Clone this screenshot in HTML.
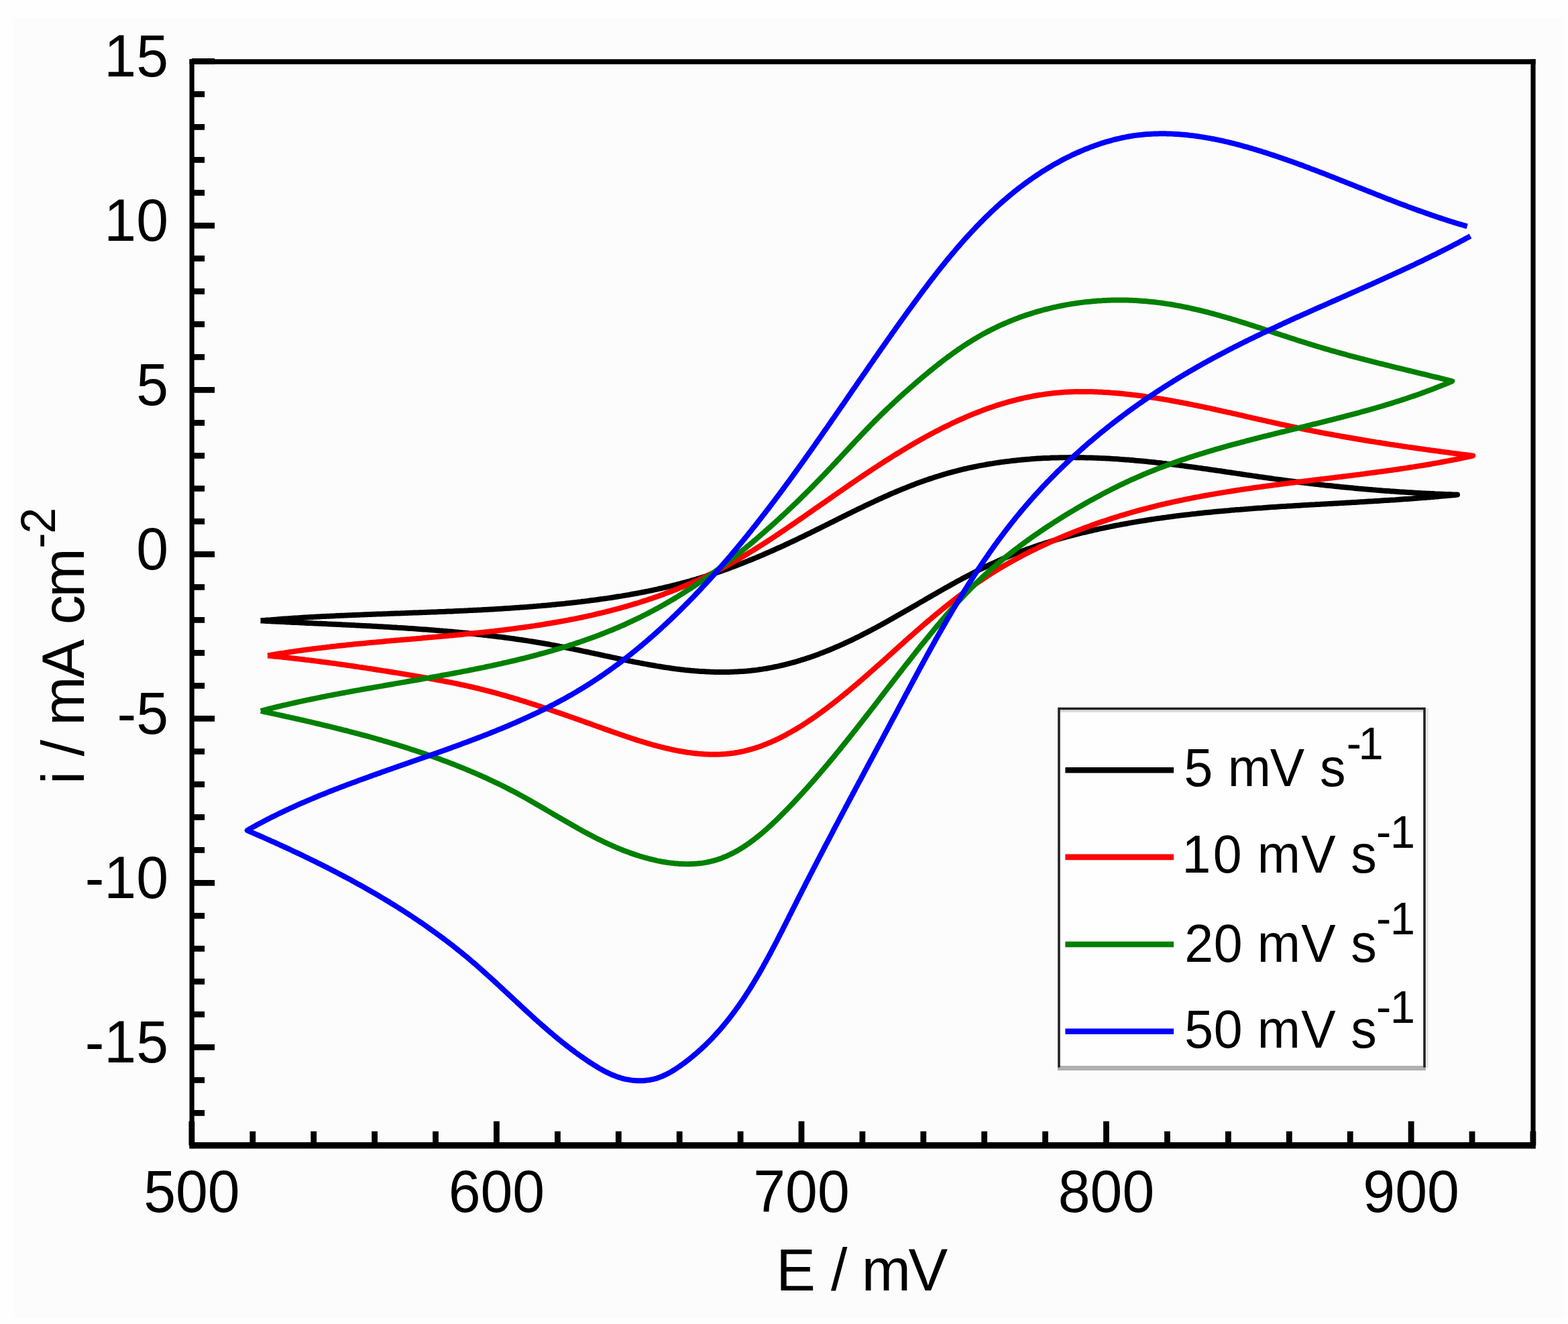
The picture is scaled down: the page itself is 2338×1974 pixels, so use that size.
<!DOCTYPE html>
<html><head><meta charset="utf-8"><title>Cyclic voltammograms</title>
<style>html,body{margin:0;padding:0;background:#fefefe;}svg{display:block;}</style></head>
<body>
<svg xmlns="http://www.w3.org/2000/svg" width="2338" height="1974" viewBox="0 0 2338 1974" font-family="'Liberation Sans', Arial, sans-serif">
<rect x="0" y="0" width="2338" height="1974" fill="#fefefe"/>
<rect x="20" y="27" width="2313" height="1937" fill="#fcfcfc"/>
<g fill="none" stroke-linejoin="round" stroke-linecap="butt"><path d="M388.6 925.4 L391.6 925.1 L394.6 924.9 L397.6 924.6 L400.5 924.4 L403.5 924.2 L406.5 923.9 L409.5 923.7 L412.5 923.5 L415.5 923.2 L418.5 923.0 L421.4 922.8 L424.4 922.6 L427.4 922.4 L430.4 922.2 L433.4 922.0 L436.4 921.8 L439.4 921.6 L442.4 921.4 L445.4 921.2 L448.3 921.0 L451.3 920.8 L454.3 920.6 L457.3 920.5 L460.3 920.3 L463.3 920.1 L466.3 920.0 L469.3 919.8 L472.3 919.6 L475.3 919.5 L478.3 919.3 L481.3 919.1 L484.3 919.0 L487.3 918.8 L490.3 918.7 L493.3 918.5 L496.3 918.4 L499.3 918.3 L502.3 918.1 L505.3 918.0 L508.3 917.8 L511.3 917.7 L514.3 917.6 L517.3 917.4 L520.3 917.3 L523.3 917.2 L526.3 917.0 L529.3 916.9 L532.3 916.8 L535.3 916.7 L538.3 916.6 L541.3 916.4 L544.4 916.3 L547.4 916.2 L550.4 916.1 L553.4 916.0 L556.4 915.8 L559.4 915.7 L562.4 915.6 L565.4 915.5 L568.4 915.4 L571.4 915.3 L574.4 915.2 L577.4 915.1 L580.4 914.9 L583.5 914.8 L586.5 914.7 L589.5 914.6 L592.5 914.5 L595.5 914.4 L598.5 914.3 L601.5 914.2 L604.5 914.1 L607.5 913.9 L610.5 913.8 L613.6 913.7 L616.6 913.6 L619.6 913.5 L622.6 913.4 L625.6 913.3 L628.6 913.2 L631.6 913.1 L634.6 912.9 L637.6 912.8 L640.6 912.7 L643.7 912.6 L646.7 912.5 L649.7 912.4 L652.7 912.2 L655.7 912.1 L658.7 912.0 L661.7 911.9 L664.7 911.7 L667.7 911.6 L670.8 911.5 L673.8 911.4 L676.8 911.2 L679.8 911.1 L682.8 911.0 L685.8 910.8 L688.8 910.7 L691.8 910.6 L694.8 910.4 L697.8 910.3 L700.8 910.1 L703.9 910.0 L706.9 909.8 L709.9 909.7 L712.9 909.5 L715.9 909.4 L718.9 909.2 L721.9 909.0 L724.9 908.9 L727.9 908.7 L730.9 908.5 L733.9 908.4 L736.9 908.2 L739.9 908.0 L743.0 907.8 L746.0 907.7 L749.0 907.5 L752.0 907.3 L755.0 907.1 L758.0 906.9 L761.0 906.7 L764.0 906.5 L767.0 906.3 L770.0 906.1 L773.0 905.9 L776.0 905.6 L779.0 905.4 L782.0 905.2 L785.0 905.0 L788.0 904.7 L791.0 904.5 L794.0 904.3 L797.0 904.0 L800.0 903.8 L803.0 903.5 L806.0 903.3 L809.0 903.0 L812.0 902.7 L815.0 902.5 L818.0 902.2 L821.0 901.9 L824.0 901.6 L827.0 901.4 L830.0 901.1 L832.9 900.8 L835.9 900.5 L838.9 900.2 L841.9 899.9 L844.9 899.5 L847.9 899.2 L850.9 898.9 L853.9 898.6 L856.9 898.2 L859.9 897.9 L862.8 897.5 L865.8 897.2 L868.8 896.8 L871.8 896.5 L874.8 896.1 L877.8 895.7 L880.7 895.3 L883.7 894.9 L886.7 894.6 L889.7 894.2 L892.7 893.8 L895.6 893.3 L898.6 892.9 L901.6 892.5 L904.6 892.1 L907.5 891.6 L910.5 891.2 L913.5 890.7 L916.5 890.3 L919.4 889.8 L922.4 889.3 L925.4 888.9 L928.3 888.4 L931.3 887.9 L934.2 887.4 L937.2 886.9 L940.2 886.3 L943.1 885.8 L946.1 885.3 L949.0 884.7 L952.0 884.2 L954.9 883.6 L957.9 883.0 L960.8 882.5 L963.7 881.9 L966.7 881.3 L969.6 880.7 L972.5 880.1 L975.5 879.4 L978.4 878.8 L981.3 878.2 L984.2 877.5 L987.2 876.9 L990.1 876.2 L993.0 875.5 L995.9 874.8 L998.8 874.1 L1001.7 873.4 L1004.6 872.7 L1007.5 872.0 L1010.4 871.2 L1013.3 870.5 L1016.2 869.7 L1019.1 868.9 L1022.0 868.2 L1024.9 867.4 L1027.7 866.6 L1030.6 865.7 L1033.5 864.9 L1036.3 864.1 L1039.2 863.2 L1042.1 862.4 L1044.9 861.5 L1047.8 860.6 L1050.6 859.7 L1053.5 858.8 L1056.3 857.9 L1059.1 857.0 L1062.0 856.0 L1064.8 855.1 L1067.6 854.1 L1070.5 853.2 L1073.3 852.2 L1076.1 851.2 L1078.9 850.2 L1081.8 849.2 L1084.6 848.2 L1087.4 847.2 L1090.2 846.1 L1093.0 845.1 L1095.8 844.0 L1098.6 843.0 L1101.4 841.9 L1104.2 840.8 L1107.0 839.7 L1109.7 838.6 L1112.5 837.5 L1115.3 836.4 L1118.1 835.3 L1120.9 834.2 L1123.6 833.0 L1126.4 831.9 L1129.2 830.7 L1132.0 829.5 L1134.7 828.4 L1137.5 827.2 L1140.2 826.0 L1143.0 824.8 L1145.8 823.6 L1148.5 822.4 L1151.3 821.2 L1154.0 820.0 L1156.8 818.7 L1159.5 817.5 L1162.3 816.3 L1165.0 815.0 L1167.7 813.8 L1170.5 812.5 L1173.2 811.2 L1176.0 810.0 L1178.7 808.7 L1181.4 807.4 L1184.2 806.1 L1186.9 804.8 L1189.6 803.5 L1192.3 802.2 L1195.1 800.9 L1197.8 799.6 L1200.5 798.3 L1203.2 796.9 L1206.0 795.6 L1208.7 794.3 L1211.4 792.9 L1214.1 791.6 L1216.8 790.2 L1219.5 788.9 L1222.3 787.6 L1225.0 786.2 L1227.7 784.8 L1230.4 783.5 L1233.1 782.1 L1235.8 780.8 L1238.5 779.4 L1241.3 778.1 L1244.0 776.7 L1246.7 775.4 L1249.4 774.0 L1252.1 772.6 L1254.8 771.3 L1257.5 769.9 L1260.3 768.6 L1263.0 767.2 L1265.7 765.9 L1268.4 764.6 L1271.1 763.2 L1273.9 761.9 L1276.6 760.5 L1279.3 759.2 L1282.0 757.9 L1284.8 756.6 L1287.5 755.3 L1290.2 753.9 L1293.0 752.6 L1295.7 751.3 L1298.4 750.1 L1301.2 748.8 L1303.9 747.5 L1306.6 746.2 L1309.4 745.0 L1312.1 743.7 L1314.9 742.5 L1317.6 741.2 L1320.4 740.0 L1323.1 738.8 L1325.9 737.5 L1328.7 736.3 L1331.4 735.1 L1334.2 734.0 L1337.0 732.8 L1339.7 731.6 L1342.5 730.5 L1345.3 729.3 L1348.1 728.2 L1350.9 727.1 L1353.6 726.0 L1356.4 724.9 L1359.2 723.8 L1362.0 722.7 L1364.8 721.6 L1367.6 720.6 L1370.4 719.6 L1373.3 718.5 L1376.1 717.5 L1378.9 716.5 L1381.7 715.5 L1384.5 714.6 L1387.4 713.6 L1390.2 712.7 L1393.0 711.8 L1395.9 710.8 L1398.7 710.0 L1401.5 709.1 L1404.4 708.2 L1407.2 707.4 L1410.1 706.5 L1413.0 705.7 L1415.8 704.9 L1418.7 704.1 L1421.5 703.3 L1424.4 702.6 L1427.3 701.8 L1430.2 701.1 L1433.1 700.4 L1435.9 699.7 L1438.8 699.0 L1441.7 698.4 L1444.6 697.7 L1447.5 697.1 L1450.4 696.5 L1453.3 695.9 L1456.2 695.3 L1459.1 694.7 L1462.0 694.1 L1465.0 693.6 L1467.9 693.1 L1470.8 692.5 L1473.7 692.0 L1476.6 691.5 L1479.6 691.1 L1482.5 690.6 L1485.4 690.1 L1488.4 689.7 L1491.3 689.3 L1494.2 688.9 L1497.2 688.5 L1500.1 688.1 L1503.1 687.7 L1506.0 687.4 L1509.0 687.0 L1511.9 686.7 L1514.9 686.4 L1517.8 686.1 L1520.8 685.8 L1523.8 685.5 L1526.7 685.2 L1529.7 684.9 L1532.7 684.7 L1535.6 684.5 L1538.6 684.2 L1541.6 684.0 L1544.6 683.8 L1547.5 683.6 L1550.5 683.5 L1553.5 683.3 L1556.5 683.1 L1559.4 683.0 L1562.4 682.9 L1565.4 682.8 L1568.4 682.6 L1571.4 682.5 L1574.4 682.5 L1577.4 682.4 L1580.4 682.3 L1583.4 682.3 L1586.3 682.2 L1589.3 682.2 L1592.3 682.2 L1595.3 682.1 L1598.3 682.1 L1601.3 682.1 L1604.3 682.2 L1607.3 682.2 L1610.3 682.2 L1613.3 682.3 L1616.3 682.3 L1619.3 682.4 L1622.3 682.4 L1625.3 682.5 L1628.3 682.6 L1631.4 682.7 L1634.4 682.8 L1637.4 682.9 L1640.4 683.1 L1643.4 683.2 L1646.4 683.3 L1649.4 683.5 L1652.4 683.6 L1655.4 683.8 L1658.4 684.0 L1661.4 684.2 L1664.4 684.3 L1667.4 684.5 L1670.4 684.8 L1673.5 685.0 L1676.5 685.2 L1679.5 685.4 L1682.5 685.6 L1685.5 685.9 L1688.5 686.1 L1691.5 686.4 L1694.5 686.7 L1697.5 686.9 L1700.5 687.2 L1703.5 687.5 L1706.5 687.8 L1709.5 688.1 L1712.5 688.4 L1715.5 688.7 L1718.5 689.0 L1721.5 689.3 L1724.5 689.7 L1727.5 690.0 L1730.5 690.3 L1733.5 690.7 L1736.5 691.0 L1739.5 691.4 L1742.5 691.7 L1745.5 692.1 L1748.5 692.5 L1751.5 692.8 L1754.5 693.2 L1757.5 693.6 L1760.5 694.0 L1763.5 694.4 L1766.5 694.8 L1769.4 695.2 L1772.4 695.6 L1775.4 696.0 L1778.4 696.4 L1781.4 696.8 L1784.4 697.2 L1787.4 697.6 L1790.4 698.0 L1793.4 698.5 L1796.4 698.9 L1799.3 699.3 L1802.3 699.7 L1805.3 700.2 L1808.3 700.6 L1811.3 701.0 L1814.3 701.5 L1817.3 701.9 L1820.2 702.3 L1823.2 702.8 L1826.2 703.2 L1829.2 703.7 L1832.2 704.1 L1835.2 704.5 L1838.1 705.0 L1841.1 705.4 L1844.1 705.9 L1847.1 706.3 L1850.1 706.7 L1853.1 707.2 L1856.0 707.6 L1859.0 708.1 L1862.0 708.5 L1865.0 708.9 L1868.0 709.4 L1870.9 709.8 L1873.9 710.2 L1876.9 710.7 L1879.9 711.1 L1882.9 711.5 L1885.8 712.0 L1888.8 712.4 L1891.8 712.8 L1894.8 713.2 L1897.8 713.6 L1900.7 714.1 L1903.7 714.5 L1906.7 714.9 L1909.7 715.3 L1912.7 715.7 L1915.6 716.1 L1918.6 716.5 L1921.6 716.9 L1924.6 717.3 L1927.6 717.6 L1930.5 718.0 L1933.5 718.4 L1936.5 718.8 L1939.5 719.2 L1942.4 719.5 L1945.4 719.9 L1948.4 720.2 L1951.4 720.6 L1954.4 721.0 L1957.3 721.3 L1960.3 721.7 L1963.3 722.0 L1966.3 722.3 L1969.3 722.7 L1972.3 723.0 L1975.2 723.4 L1978.2 723.7 L1981.2 724.0 L1984.2 724.3 L1987.2 724.6 L1990.1 725.0 L1993.1 725.3 L1996.1 725.6 L1999.1 725.9 L2002.1 726.2 L2005.1 726.5 L2008.0 726.8 L2011.0 727.1 L2014.0 727.3 L2017.0 727.6 L2020.0 727.9 L2023.0 728.2 L2026.0 728.5 L2028.9 728.7 L2031.9 729.0 L2034.9 729.3 L2037.9 729.5 L2040.9 729.8 L2043.9 730.0 L2046.9 730.3 L2049.9 730.5 L2052.8 730.8 L2055.8 731.0 L2058.8 731.2 L2061.8 731.5 L2064.8 731.7 L2067.8 731.9 L2070.8 732.1 L2073.8 732.4 L2076.8 732.6 L2079.8 732.8 L2082.8 733.0 L2085.8 733.2 L2088.8 733.4 L2091.8 733.6 L2094.8 733.8 L2097.8 734.0 L2100.8 734.2 L2103.8 734.3 L2106.8 734.5 L2109.8 734.7 L2112.8 734.9 L2115.8 735.0 L2118.8 735.2 L2121.8 735.4 L2124.8 735.5 L2127.8 735.7 L2130.8 735.8 L2133.8 736.0 L2136.8 736.1 L2139.8 736.3 L2142.8 736.4 L2145.9 736.5 L2148.9 736.7 L2151.9 736.8 L2154.9 736.9 L2157.9 737.0 L2160.9 737.1 L2163.9 737.2 L2167.0 737.4 L2170.0 737.5 L2173.0 737.6 L2170.0 737.9 L2167.0 738.2 L2164.1 738.5 L2161.1 738.7 L2158.1 739.0 L2155.2 739.3 L2152.2 739.6 L2149.2 739.8 L2146.2 740.1 L2143.3 740.4 L2140.3 740.6 L2137.3 740.9 L2134.3 741.1 L2131.4 741.4 L2128.4 741.6 L2125.4 741.9 L2122.4 742.1 L2119.4 742.3 L2116.4 742.6 L2113.5 742.8 L2110.5 743.0 L2107.5 743.2 L2104.5 743.5 L2101.5 743.7 L2098.5 743.9 L2095.5 744.1 L2092.5 744.3 L2089.5 744.5 L2086.5 744.7 L2083.5 744.9 L2080.6 745.2 L2077.6 745.4 L2074.6 745.5 L2071.6 745.7 L2068.6 745.9 L2065.6 746.1 L2062.6 746.3 L2059.6 746.5 L2056.6 746.7 L2053.6 746.9 L2050.6 747.1 L2047.6 747.3 L2044.6 747.4 L2041.6 747.6 L2038.6 747.8 L2035.5 748.0 L2032.5 748.2 L2029.5 748.3 L2026.5 748.5 L2023.5 748.7 L2020.5 748.9 L2017.5 749.0 L2014.5 749.2 L2011.5 749.4 L2008.5 749.5 L2005.5 749.7 L2002.5 749.9 L1999.5 750.1 L1996.5 750.2 L1993.4 750.4 L1990.4 750.6 L1987.4 750.7 L1984.4 750.9 L1981.4 751.1 L1978.4 751.2 L1975.4 751.4 L1972.4 751.6 L1969.4 751.7 L1966.4 751.9 L1963.3 752.1 L1960.3 752.3 L1957.3 752.4 L1954.3 752.6 L1951.3 752.8 L1948.3 753.0 L1945.3 753.1 L1942.3 753.3 L1939.3 753.5 L1936.2 753.7 L1933.2 753.8 L1930.2 754.0 L1927.2 754.2 L1924.2 754.4 L1921.2 754.6 L1918.2 754.8 L1915.2 755.0 L1912.2 755.1 L1909.1 755.3 L1906.1 755.5 L1903.1 755.7 L1900.1 755.9 L1897.1 756.1 L1894.1 756.3 L1891.1 756.5 L1888.1 756.7 L1885.1 756.9 L1882.1 757.2 L1879.1 757.4 L1876.0 757.6 L1873.0 757.8 L1870.0 758.0 L1867.0 758.3 L1864.0 758.5 L1861.0 758.7 L1858.0 758.9 L1855.0 759.2 L1852.0 759.4 L1849.0 759.7 L1846.0 759.9 L1843.0 760.1 L1840.0 760.4 L1837.0 760.6 L1834.0 760.9 L1831.0 761.2 L1828.0 761.4 L1825.0 761.7 L1822.0 762.0 L1819.0 762.2 L1816.0 762.5 L1813.0 762.8 L1810.0 763.1 L1807.0 763.4 L1804.0 763.7 L1801.0 764.0 L1798.0 764.3 L1795.0 764.6 L1792.0 764.9 L1789.1 765.2 L1786.1 765.5 L1783.1 765.9 L1780.1 766.2 L1777.1 766.5 L1774.1 766.9 L1771.1 767.2 L1768.1 767.6 L1765.2 767.9 L1762.2 768.3 L1759.2 768.6 L1756.2 769.0 L1753.2 769.4 L1750.3 769.8 L1747.3 770.2 L1744.3 770.6 L1741.3 770.9 L1738.4 771.4 L1735.4 771.8 L1732.4 772.2 L1729.4 772.6 L1726.5 773.0 L1723.5 773.4 L1720.5 773.9 L1717.6 774.3 L1714.6 774.8 L1711.6 775.2 L1708.7 775.7 L1705.7 776.2 L1702.8 776.6 L1699.8 777.1 L1696.8 777.6 L1693.9 778.1 L1690.9 778.6 L1688.0 779.1 L1685.0 779.6 L1682.1 780.2 L1679.1 780.7 L1676.2 781.2 L1673.2 781.8 L1670.3 782.3 L1667.3 782.9 L1664.4 783.4 L1661.5 784.0 L1658.5 784.6 L1655.6 785.2 L1652.7 785.8 L1649.7 786.4 L1646.8 787.0 L1643.9 787.6 L1640.9 788.2 L1638.0 788.9 L1635.1 789.5 L1632.2 790.1 L1629.2 790.8 L1626.3 791.5 L1623.4 792.1 L1620.5 792.8 L1617.6 793.5 L1614.6 794.2 L1611.7 794.9 L1608.8 795.6 L1605.9 796.4 L1603.0 797.1 L1600.1 797.9 L1597.2 798.6 L1594.3 799.4 L1591.4 800.1 L1588.5 800.9 L1585.7 801.7 L1582.8 802.5 L1579.9 803.3 L1577.0 804.2 L1574.1 805.0 L1571.3 805.9 L1568.4 806.7 L1565.5 807.6 L1562.7 808.5 L1559.8 809.4 L1557.0 810.3 L1554.1 811.2 L1551.3 812.1 L1548.4 813.0 L1545.6 814.0 L1542.7 814.9 L1539.9 815.9 L1537.1 816.9 L1534.3 817.9 L1531.4 818.9 L1528.6 819.9 L1525.8 821.0 L1523.0 822.0 L1520.2 823.1 L1517.4 824.1 L1514.6 825.2 L1511.8 826.3 L1509.0 827.4 L1506.3 828.6 L1503.5 829.7 L1500.7 830.9 L1498.0 832.0 L1495.2 833.2 L1492.5 834.4 L1489.7 835.6 L1487.0 836.9 L1484.2 838.1 L1481.5 839.3 L1478.8 840.6 L1476.1 841.9 L1473.4 843.2 L1470.6 844.5 L1467.9 845.8 L1465.2 847.1 L1462.5 848.4 L1459.8 849.8 L1457.1 851.1 L1454.5 852.5 L1451.8 853.9 L1449.1 855.3 L1446.4 856.7 L1443.7 858.1 L1441.1 859.5 L1438.4 860.9 L1435.7 862.3 L1433.1 863.8 L1430.4 865.2 L1427.8 866.6 L1425.1 868.1 L1422.5 869.6 L1419.8 871.0 L1417.2 872.5 L1414.5 874.0 L1411.9 875.5 L1409.2 876.9 L1406.6 878.4 L1404.0 879.9 L1401.3 881.4 L1398.7 882.9 L1396.1 884.5 L1393.4 886.0 L1390.8 887.5 L1388.2 889.0 L1385.6 890.5 L1382.9 892.0 L1380.3 893.5 L1377.7 895.1 L1375.1 896.6 L1372.4 898.1 L1369.8 899.6 L1367.2 901.2 L1364.6 902.7 L1361.9 904.2 L1359.3 905.7 L1356.7 907.2 L1354.1 908.8 L1351.4 910.3 L1348.8 911.8 L1346.2 913.3 L1343.5 914.8 L1340.9 916.3 L1338.3 917.8 L1335.6 919.3 L1333.0 920.8 L1330.4 922.3 L1327.7 923.8 L1325.1 925.3 L1322.5 926.7 L1319.8 928.2 L1317.2 929.7 L1314.5 931.1 L1311.9 932.6 L1309.2 934.0 L1306.6 935.4 L1303.9 936.9 L1301.3 938.3 L1298.6 939.7 L1295.9 941.1 L1293.3 942.5 L1290.6 943.9 L1287.9 945.2 L1285.2 946.6 L1282.6 948.0 L1279.9 949.3 L1277.2 950.6 L1274.5 952.0 L1271.8 953.3 L1269.1 954.6 L1266.4 955.9 L1263.7 957.1 L1261.0 958.4 L1258.3 959.7 L1255.5 960.9 L1252.8 962.1 L1250.1 963.3 L1247.3 964.5 L1244.6 965.7 L1241.8 966.9 L1239.1 968.0 L1236.3 969.2 L1233.6 970.3 L1230.8 971.4 L1228.0 972.5 L1225.3 973.6 L1222.5 974.6 L1219.7 975.7 L1216.9 976.7 L1214.1 977.7 L1211.3 978.7 L1208.5 979.7 L1205.7 980.6 L1202.8 981.5 L1200.0 982.5 L1197.2 983.4 L1194.3 984.2 L1191.5 985.1 L1188.7 986.0 L1185.8 986.8 L1183.0 987.6 L1180.1 988.4 L1177.2 989.1 L1174.4 989.9 L1171.5 990.6 L1168.6 991.3 L1165.8 992.0 L1162.9 992.6 L1160.0 993.3 L1157.1 993.9 L1154.2 994.5 L1151.3 995.1 L1148.4 995.6 L1145.5 996.2 L1142.6 996.7 L1139.7 997.1 L1136.8 997.6 L1133.8 998.0 L1130.9 998.5 L1128.0 998.9 L1125.1 999.2 L1122.1 999.6 L1119.2 999.9 L1116.2 1000.2 L1113.3 1000.5 L1110.4 1000.7 L1107.4 1000.9 L1104.5 1001.1 L1101.5 1001.3 L1098.5 1001.5 L1095.6 1001.6 L1092.6 1001.7 L1089.7 1001.8 L1086.7 1001.9 L1083.7 1002.0 L1080.8 1002.0 L1077.8 1002.0 L1074.8 1002.0 L1071.9 1002.0 L1068.9 1002.0 L1065.9 1001.9 L1062.9 1001.8 L1060.0 1001.7 L1057.0 1001.6 L1054.0 1001.5 L1051.0 1001.3 L1048.0 1001.1 L1045.1 1001.0 L1042.1 1000.8 L1039.1 1000.5 L1036.1 1000.3 L1033.1 1000.0 L1030.2 999.8 L1027.2 999.5 L1024.2 999.2 L1021.2 998.9 L1018.2 998.5 L1015.3 998.2 L1012.3 997.8 L1009.3 997.5 L1006.3 997.1 L1003.4 996.7 L1000.4 996.3 L997.4 995.8 L994.4 995.4 L991.4 995.0 L988.5 994.5 L985.5 994.0 L982.5 993.5 L979.6 993.1 L976.6 992.5 L973.6 992.0 L970.6 991.5 L967.7 991.0 L964.7 990.4 L961.7 989.9 L958.7 989.3 L955.8 988.8 L952.8 988.2 L949.8 987.6 L946.9 987.1 L943.9 986.5 L940.9 985.9 L937.9 985.3 L935.0 984.7 L932.0 984.0 L929.0 983.4 L926.1 982.8 L923.1 982.2 L920.1 981.6 L917.2 980.9 L914.2 980.3 L911.2 979.7 L908.3 979.0 L905.3 978.4 L902.3 977.8 L899.3 977.1 L896.4 976.5 L893.4 975.8 L890.4 975.2 L887.5 974.6 L884.5 973.9 L881.5 973.3 L878.6 972.7 L875.6 972.0 L872.6 971.4 L869.7 970.8 L866.7 970.1 L863.7 969.5 L860.8 968.9 L857.8 968.3 L854.8 967.7 L851.9 967.1 L848.9 966.5 L845.9 965.9 L843.0 965.3 L840.0 964.7 L837.0 964.1 L834.0 963.6 L831.1 963.0 L828.1 962.5 L825.1 961.9 L822.2 961.4 L819.2 960.8 L816.2 960.3 L813.3 959.8 L810.3 959.3 L807.3 958.8 L804.3 958.3 L801.4 957.8 L798.4 957.3 L795.4 956.8 L792.5 956.3 L789.5 955.9 L786.5 955.4 L783.5 954.9 L780.6 954.5 L777.6 954.0 L774.6 953.6 L771.7 953.2 L768.7 952.8 L765.7 952.3 L762.7 951.9 L759.8 951.5 L756.8 951.1 L753.8 950.7 L750.8 950.3 L747.9 949.9 L744.9 949.5 L741.9 949.2 L738.9 948.8 L736.0 948.4 L733.0 948.1 L730.0 947.7 L727.0 947.4 L724.1 947.0 L721.1 946.7 L718.1 946.3 L715.1 946.0 L712.1 945.7 L709.2 945.3 L706.2 945.0 L703.2 944.7 L700.2 944.4 L697.3 944.1 L694.3 943.8 L691.3 943.5 L688.3 943.2 L685.3 942.9 L682.4 942.6 L679.4 942.4 L676.4 942.1 L673.4 941.8 L670.4 941.5 L667.5 941.3 L664.5 941.0 L661.5 940.8 L658.5 940.5 L655.5 940.3 L652.5 940.0 L649.6 939.8 L646.6 939.5 L643.6 939.3 L640.6 939.1 L637.6 938.8 L634.6 938.6 L631.7 938.4 L628.7 938.2 L625.7 938.0 L622.7 937.7 L619.7 937.5 L616.7 937.3 L613.7 937.1 L610.7 936.9 L607.8 936.7 L604.8 936.5 L601.8 936.3 L598.8 936.1 L595.8 935.9 L592.8 935.8 L589.8 935.6 L586.8 935.4 L583.8 935.2 L580.9 935.0 L577.9 934.8 L574.9 934.7 L571.9 934.5 L568.9 934.3 L565.9 934.2 L562.9 934.0 L559.9 933.8 L556.9 933.7 L553.9 933.5 L550.9 933.3 L547.9 933.2 L544.9 933.0 L541.9 932.9 L538.9 932.7 L535.9 932.6 L532.9 932.4 L530.0 932.3 L527.0 932.1 L524.0 932.0 L521.0 931.8 L518.0 931.7 L515.0 931.5 L512.0 931.4 L509.0 931.2 L506.0 931.1 L503.0 931.0 L500.0 930.8 L497.0 930.7 L494.0 930.5 L490.9 930.4 L487.9 930.3 L484.9 930.1 L481.9 930.0 L478.9 929.8 L475.9 929.7 L472.9 929.6 L469.9 929.4 L466.9 929.3 L463.9 929.1 L460.9 929.0 L457.9 928.9 L454.9 928.7 L451.9 928.6 L448.9 928.4 L445.9 928.3 L442.8 928.1 L439.8 928.0 L436.8 927.9 L433.8 927.7 L430.8 927.6 L427.8 927.4 L424.8 927.3 L421.8 927.1 L418.7 927.0 L415.7 926.8 L412.7 926.7 L409.7 926.5 L406.7 926.4 L403.7 926.2 L400.7 926.1 L397.6 925.9 L394.6 925.7 L391.6 925.6 L388.6 925.4" stroke="#000" stroke-width="8.0"/>
<path d="M399.1 977.5 L402.1 977.0 L405.0 976.5 L407.9 976.0 L410.9 975.5 L413.8 975.0 L416.8 974.5 L419.7 974.0 L422.7 973.6 L425.7 973.1 L428.6 972.7 L431.6 972.2 L434.5 971.8 L437.5 971.4 L440.4 970.9 L443.4 970.5 L446.4 970.1 L449.3 969.7 L452.3 969.3 L455.3 968.9 L458.2 968.5 L461.2 968.1 L464.2 967.7 L467.2 967.3 L470.1 967.0 L473.1 966.6 L476.1 966.2 L479.1 965.9 L482.0 965.5 L485.0 965.2 L488.0 964.8 L491.0 964.5 L494.0 964.1 L496.9 963.8 L499.9 963.5 L502.9 963.1 L505.9 962.8 L508.9 962.5 L511.9 962.2 L514.9 961.9 L517.8 961.5 L520.8 961.2 L523.8 960.9 L526.8 960.6 L529.8 960.3 L532.8 960.0 L535.8 959.7 L538.8 959.4 L541.8 959.2 L544.8 958.9 L547.8 958.6 L550.8 958.3 L553.8 958.0 L556.8 957.7 L559.8 957.5 L562.8 957.2 L565.8 956.9 L568.8 956.7 L571.8 956.4 L574.8 956.1 L577.8 955.8 L580.8 955.6 L583.8 955.3 L586.8 955.1 L589.8 954.8 L592.8 954.5 L595.8 954.3 L598.8 954.0 L601.8 953.7 L604.8 953.5 L607.8 953.2 L610.8 953.0 L613.8 952.7 L616.8 952.4 L619.8 952.2 L622.8 951.9 L625.8 951.7 L628.8 951.4 L631.8 951.1 L634.8 950.9 L637.8 950.6 L640.8 950.3 L643.8 950.1 L646.8 949.8 L649.9 949.6 L652.9 949.3 L655.9 949.0 L658.9 948.7 L661.9 948.5 L664.9 948.2 L667.9 947.9 L670.9 947.6 L673.9 947.4 L676.9 947.1 L679.9 946.8 L682.9 946.5 L685.9 946.2 L688.9 945.9 L691.9 945.6 L694.9 945.3 L697.9 945.1 L700.9 944.8 L703.9 944.4 L706.9 944.1 L709.9 943.8 L712.9 943.5 L715.9 943.2 L718.9 942.9 L721.9 942.6 L724.8 942.2 L727.8 941.9 L730.8 941.6 L733.8 941.2 L736.8 940.9 L739.8 940.5 L742.8 940.2 L745.8 939.8 L748.8 939.5 L751.8 939.1 L754.7 938.8 L757.7 938.4 L760.7 938.0 L763.7 937.6 L766.7 937.2 L769.7 936.8 L772.6 936.4 L775.6 936.0 L778.6 935.6 L781.6 935.2 L784.6 934.8 L787.5 934.4 L790.5 934.0 L793.5 933.5 L796.5 933.1 L799.4 932.6 L802.4 932.2 L805.4 931.7 L808.3 931.3 L811.3 930.8 L814.3 930.3 L817.2 929.8 L820.2 929.3 L823.2 928.8 L826.1 928.3 L829.1 927.8 L832.0 927.3 L835.0 926.8 L837.9 926.2 L840.9 925.7 L843.8 925.1 L846.8 924.6 L849.7 924.0 L852.7 923.4 L855.6 922.9 L858.6 922.3 L861.5 921.7 L864.5 921.1 L867.4 920.5 L870.3 919.8 L873.3 919.2 L876.2 918.6 L879.1 917.9 L882.1 917.3 L885.0 916.6 L887.9 915.9 L890.8 915.2 L893.8 914.5 L896.7 913.8 L899.6 913.1 L902.5 912.4 L905.4 911.7 L908.4 911.0 L911.3 910.2 L914.2 909.4 L917.1 908.7 L920.0 907.9 L922.9 907.1 L925.8 906.3 L928.7 905.5 L931.6 904.7 L934.5 903.9 L937.4 903.0 L940.3 902.2 L943.1 901.3 L946.0 900.4 L948.9 899.6 L951.8 898.7 L954.6 897.8 L957.5 896.9 L960.4 895.9 L963.2 895.0 L966.1 894.1 L968.9 893.1 L971.8 892.2 L974.6 891.2 L977.5 890.2 L980.3 889.2 L983.2 888.2 L986.0 887.2 L988.8 886.2 L991.6 885.1 L994.4 884.1 L997.2 883.0 L1000.1 881.9 L1002.8 880.9 L1005.6 879.8 L1008.4 878.7 L1011.2 877.6 L1014.0 876.4 L1016.8 875.3 L1019.5 874.2 L1022.3 873.0 L1025.0 871.8 L1027.8 870.6 L1030.5 869.5 L1033.3 868.3 L1036.0 867.0 L1038.7 865.8 L1041.5 864.6 L1044.2 863.3 L1046.9 862.1 L1049.6 860.8 L1052.3 859.5 L1054.9 858.2 L1057.6 856.9 L1060.3 855.6 L1063.0 854.3 L1065.6 852.9 L1068.3 851.6 L1070.9 850.2 L1073.5 848.8 L1076.2 847.5 L1078.8 846.1 L1081.4 844.7 L1084.0 843.2 L1086.6 841.8 L1089.2 840.4 L1091.8 838.9 L1094.4 837.5 L1097.0 836.0 L1099.5 834.5 L1102.1 833.0 L1104.7 831.5 L1107.2 830.0 L1109.8 828.5 L1112.3 827.0 L1114.9 825.4 L1117.4 823.9 L1119.9 822.4 L1122.5 820.8 L1125.0 819.2 L1127.5 817.7 L1130.0 816.1 L1132.6 814.5 L1135.1 812.9 L1137.6 811.3 L1140.1 809.7 L1142.6 808.1 L1145.1 806.4 L1147.6 804.8 L1150.1 803.2 L1152.6 801.5 L1155.1 799.9 L1157.6 798.2 L1160.0 796.6 L1162.5 794.9 L1165.0 793.2 L1167.5 791.6 L1170.0 789.9 L1172.5 788.2 L1174.9 786.5 L1177.4 784.8 L1179.9 783.1 L1182.4 781.4 L1184.9 779.7 L1187.3 778.0 L1189.8 776.3 L1192.3 774.6 L1194.8 772.9 L1197.3 771.2 L1199.7 769.5 L1202.2 767.7 L1204.7 766.0 L1207.2 764.3 L1209.7 762.5 L1212.2 760.8 L1214.6 759.1 L1217.1 757.3 L1219.6 755.6 L1222.1 753.9 L1224.6 752.1 L1227.1 750.4 L1229.6 748.7 L1232.1 746.9 L1234.6 745.2 L1237.1 743.4 L1239.6 741.7 L1242.0 740.0 L1244.5 738.2 L1247.0 736.5 L1249.5 734.7 L1252.1 733.0 L1254.6 731.3 L1257.1 729.5 L1259.6 727.8 L1262.1 726.1 L1264.6 724.4 L1267.1 722.6 L1269.6 720.9 L1272.1 719.2 L1274.6 717.5 L1277.2 715.8 L1279.7 714.0 L1282.2 712.3 L1284.7 710.6 L1287.2 708.9 L1289.8 707.2 L1292.3 705.5 L1294.8 703.9 L1297.4 702.2 L1299.9 700.5 L1302.4 698.8 L1305.0 697.1 L1307.5 695.5 L1310.1 693.8 L1312.6 692.2 L1315.2 690.5 L1317.7 688.9 L1320.3 687.2 L1322.8 685.6 L1325.4 684.0 L1328.0 682.4 L1330.5 680.7 L1333.1 679.1 L1335.7 677.5 L1338.2 676.0 L1340.8 674.4 L1343.4 672.8 L1346.0 671.2 L1348.6 669.7 L1351.1 668.1 L1353.7 666.6 L1356.3 665.0 L1358.9 663.5 L1361.5 662.0 L1364.1 660.5 L1366.7 659.0 L1369.3 657.5 L1372.0 656.0 L1374.6 654.5 L1377.2 653.1 L1379.8 651.6 L1382.4 650.2 L1385.1 648.8 L1387.7 647.3 L1390.3 645.9 L1393.0 644.5 L1395.6 643.1 L1398.3 641.8 L1400.9 640.4 L1403.6 639.0 L1406.3 637.7 L1408.9 636.4 L1411.6 635.1 L1414.3 633.8 L1416.9 632.5 L1419.6 631.2 L1422.3 629.9 L1425.0 628.7 L1427.7 627.4 L1430.4 626.2 L1433.1 625.0 L1435.8 623.8 L1438.5 622.6 L1441.2 621.4 L1443.9 620.3 L1446.6 619.1 L1449.4 618.0 L1452.1 616.9 L1454.8 615.8 L1457.6 614.7 L1460.3 613.7 L1463.1 612.6 L1465.8 611.6 L1468.6 610.6 L1471.3 609.6 L1474.1 608.6 L1476.9 607.6 L1479.7 606.7 L1482.4 605.7 L1485.2 604.8 L1488.0 603.9 L1490.8 603.0 L1493.6 602.2 L1496.4 601.3 L1499.2 600.5 L1502.1 599.7 L1504.9 598.9 L1507.7 598.1 L1510.6 597.3 L1513.4 596.6 L1516.2 595.9 L1519.1 595.2 L1521.9 594.5 L1524.8 593.8 L1527.7 593.2 L1530.6 592.6 L1533.4 592.0 L1536.3 591.4 L1539.2 590.8 L1542.1 590.3 L1545.0 589.8 L1547.9 589.3 L1550.8 588.8 L1553.8 588.4 L1556.7 587.9 L1559.6 587.5 L1562.6 587.1 L1565.5 586.8 L1568.4 586.4 L1571.4 586.1 L1574.4 585.8 L1577.3 585.5 L1580.3 585.3 L1583.3 585.0 L1586.3 584.8 L1589.3 584.6 L1592.3 584.5 L1595.3 584.3 L1598.3 584.2 L1601.3 584.1 L1604.3 584.0 L1607.4 583.9 L1610.4 583.9 L1613.4 583.9 L1616.5 583.9 L1619.5 583.9 L1622.5 583.9 L1625.6 584.0 L1628.6 584.1 L1631.7 584.2 L1634.7 584.3 L1637.8 584.4 L1640.8 584.5 L1643.9 584.7 L1647.0 584.9 L1650.0 585.0 L1653.1 585.2 L1656.1 585.5 L1659.2 585.7 L1662.3 585.9 L1665.3 586.2 L1668.4 586.5 L1671.4 586.8 L1674.5 587.1 L1677.6 587.4 L1680.6 587.7 L1683.7 588.1 L1686.7 588.4 L1689.8 588.8 L1692.8 589.1 L1695.9 589.5 L1698.9 589.9 L1701.9 590.3 L1705.0 590.7 L1708.0 591.2 L1711.0 591.6 L1714.1 592.0 L1717.1 592.5 L1720.1 593.0 L1723.1 593.4 L1726.2 593.9 L1729.2 594.4 L1732.2 594.9 L1735.2 595.4 L1738.2 595.9 L1741.2 596.4 L1744.2 596.9 L1747.2 597.5 L1750.2 598.0 L1753.2 598.6 L1756.2 599.1 L1759.2 599.7 L1762.2 600.2 L1765.1 600.8 L1768.1 601.4 L1771.1 602.0 L1774.1 602.6 L1777.1 603.2 L1780.0 603.8 L1783.0 604.4 L1786.0 605.0 L1788.9 605.6 L1791.9 606.2 L1794.9 606.8 L1797.8 607.5 L1800.8 608.1 L1803.7 608.7 L1806.7 609.4 L1809.7 610.0 L1812.6 610.7 L1815.6 611.3 L1818.5 612.0 L1821.5 612.6 L1824.4 613.3 L1827.4 613.9 L1830.3 614.6 L1833.2 615.2 L1836.2 615.9 L1839.1 616.6 L1842.1 617.2 L1845.0 617.9 L1847.9 618.6 L1850.9 619.2 L1853.8 619.9 L1856.7 620.6 L1859.7 621.3 L1862.6 621.9 L1865.5 622.6 L1868.5 623.3 L1871.4 623.9 L1874.3 624.6 L1877.3 625.3 L1880.2 625.9 L1883.1 626.6 L1886.0 627.2 L1889.0 627.9 L1891.9 628.6 L1894.8 629.2 L1897.7 629.9 L1900.7 630.5 L1903.6 631.2 L1906.5 631.8 L1909.4 632.5 L1912.3 633.1 L1915.3 633.7 L1918.2 634.4 L1921.1 635.0 L1924.0 635.6 L1926.9 636.2 L1929.9 636.9 L1932.8 637.5 L1935.7 638.1 L1938.6 638.7 L1941.5 639.3 L1944.5 639.9 L1947.4 640.5 L1950.3 641.1 L1953.2 641.6 L1956.2 642.2 L1959.1 642.8 L1962.0 643.4 L1964.9 643.9 L1967.8 644.5 L1970.8 645.1 L1973.7 645.6 L1976.6 646.2 L1979.5 646.7 L1982.5 647.3 L1985.4 647.8 L1988.3 648.3 L1991.2 648.9 L1994.2 649.4 L1997.1 649.9 L2000.0 650.5 L2003.0 651.0 L2005.9 651.5 L2008.8 652.0 L2011.7 652.5 L2014.7 653.0 L2017.6 653.5 L2020.5 654.0 L2023.5 654.5 L2026.4 655.0 L2029.4 655.5 L2032.3 656.0 L2035.2 656.5 L2038.2 657.0 L2041.1 657.5 L2044.1 658.0 L2047.0 658.4 L2049.9 658.9 L2052.9 659.4 L2055.8 659.8 L2058.8 660.3 L2061.7 660.8 L2064.7 661.2 L2067.6 661.7 L2070.6 662.1 L2073.5 662.6 L2076.5 663.0 L2079.5 663.5 L2082.4 663.9 L2085.4 664.4 L2088.3 664.8 L2091.3 665.3 L2094.3 665.7 L2097.2 666.1 L2100.2 666.6 L2103.2 667.0 L2106.2 667.4 L2109.1 667.8 L2112.1 668.3 L2115.1 668.7 L2118.1 669.1 L2121.0 669.5 L2124.0 669.9 L2127.0 670.4 L2130.0 670.8 L2133.0 671.2 L2136.0 671.6 L2139.0 672.0 L2142.0 672.4 L2145.0 672.8 L2148.0 673.2 L2151.0 673.6 L2154.0 674.0 L2157.0 674.4 L2160.0 674.8 L2163.0 675.2 L2166.0 675.6 L2169.0 676.0 L2172.1 676.4 L2175.1 676.8 L2178.1 677.2 L2181.1 677.6 L2184.2 677.9 L2187.2 678.3 L2190.2 678.7 L2193.3 679.1 L2196.3 679.5 L2193.4 680.2 L2190.4 680.8 L2187.5 681.4 L2184.5 682.1 L2181.6 682.7 L2178.6 683.3 L2175.7 683.9 L2172.8 684.5 L2169.8 685.1 L2166.9 685.7 L2163.9 686.2 L2160.9 686.8 L2158.0 687.4 L2155.0 687.9 L2152.1 688.5 L2149.1 689.0 L2146.2 689.6 L2143.2 690.1 L2140.2 690.6 L2137.3 691.1 L2134.3 691.7 L2131.4 692.2 L2128.4 692.7 L2125.4 693.2 L2122.5 693.7 L2119.5 694.2 L2116.5 694.6 L2113.6 695.1 L2110.6 695.6 L2107.6 696.1 L2104.7 696.5 L2101.7 697.0 L2098.7 697.5 L2095.7 697.9 L2092.8 698.4 L2089.8 698.8 L2086.8 699.2 L2083.9 699.7 L2080.9 700.1 L2077.9 700.5 L2074.9 701.0 L2071.9 701.4 L2069.0 701.8 L2066.0 702.2 L2063.0 702.6 L2060.0 703.0 L2057.1 703.4 L2054.1 703.8 L2051.1 704.2 L2048.1 704.6 L2045.1 705.0 L2042.1 705.4 L2039.2 705.8 L2036.2 706.2 L2033.2 706.6 L2030.2 707.0 L2027.2 707.4 L2024.2 707.7 L2021.3 708.1 L2018.3 708.5 L2015.3 708.9 L2012.3 709.2 L2009.3 709.6 L2006.3 710.0 L2003.4 710.3 L2000.4 710.7 L1997.4 711.1 L1994.4 711.4 L1991.4 711.8 L1988.4 712.2 L1985.4 712.5 L1982.5 712.9 L1979.5 713.3 L1976.5 713.6 L1973.5 714.0 L1970.5 714.3 L1967.5 714.7 L1964.5 715.1 L1961.6 715.4 L1958.6 715.8 L1955.6 716.2 L1952.6 716.5 L1949.6 716.9 L1946.6 717.2 L1943.6 717.6 L1940.7 718.0 L1937.7 718.3 L1934.7 718.7 L1931.7 719.1 L1928.7 719.5 L1925.7 719.8 L1922.8 720.2 L1919.8 720.6 L1916.8 721.0 L1913.8 721.3 L1910.8 721.7 L1907.9 722.1 L1904.9 722.5 L1901.9 722.9 L1898.9 723.3 L1895.9 723.7 L1893.0 724.1 L1890.0 724.5 L1887.0 724.9 L1884.0 725.3 L1881.1 725.7 L1878.1 726.1 L1875.1 726.5 L1872.1 726.9 L1869.2 727.3 L1866.2 727.8 L1863.2 728.2 L1860.2 728.6 L1857.3 729.0 L1854.3 729.5 L1851.3 729.9 L1848.4 730.4 L1845.4 730.8 L1842.4 731.3 L1839.5 731.7 L1836.5 732.2 L1833.5 732.7 L1830.6 733.1 L1827.6 733.6 L1824.6 734.1 L1821.7 734.6 L1818.7 735.1 L1815.8 735.6 L1812.8 736.1 L1809.8 736.6 L1806.9 737.1 L1803.9 737.6 L1801.0 738.2 L1798.0 738.7 L1795.1 739.2 L1792.1 739.8 L1789.2 740.3 L1786.2 740.9 L1783.3 741.4 L1780.3 742.0 L1777.4 742.6 L1774.5 743.2 L1771.5 743.7 L1768.6 744.3 L1765.6 744.9 L1762.7 745.6 L1759.8 746.2 L1756.8 746.8 L1753.9 747.4 L1751.0 748.1 L1748.0 748.7 L1745.1 749.4 L1742.2 750.0 L1739.2 750.7 L1736.3 751.4 L1733.4 752.0 L1730.5 752.7 L1727.5 753.4 L1724.6 754.2 L1721.7 754.9 L1718.8 755.6 L1715.9 756.3 L1713.0 757.1 L1710.1 757.8 L1707.1 758.6 L1704.2 759.4 L1701.3 760.1 L1698.4 760.9 L1695.5 761.7 L1692.6 762.5 L1689.7 763.3 L1686.8 764.2 L1683.9 765.0 L1681.0 765.9 L1678.2 766.7 L1675.3 767.6 L1672.4 768.4 L1669.5 769.3 L1666.6 770.2 L1663.7 771.1 L1660.9 772.0 L1658.0 772.9 L1655.1 773.9 L1652.3 774.8 L1649.4 775.7 L1646.5 776.7 L1643.7 777.6 L1640.8 778.6 L1638.0 779.6 L1635.1 780.6 L1632.3 781.6 L1629.4 782.6 L1626.6 783.6 L1623.8 784.7 L1620.9 785.7 L1618.1 786.7 L1615.3 787.8 L1612.5 788.9 L1609.7 790.0 L1606.9 791.0 L1604.1 792.1 L1601.3 793.2 L1598.5 794.4 L1595.7 795.5 L1592.9 796.6 L1590.1 797.8 L1587.3 798.9 L1584.5 800.1 L1581.8 801.3 L1579.0 802.5 L1576.2 803.7 L1573.5 804.9 L1570.7 806.1 L1568.0 807.3 L1565.2 808.5 L1562.5 809.8 L1559.8 811.0 L1557.0 812.3 L1554.3 813.6 L1551.6 814.9 L1548.9 816.2 L1546.2 817.5 L1543.5 818.8 L1540.8 820.1 L1538.1 821.4 L1535.4 822.8 L1532.7 824.2 L1530.1 825.5 L1527.4 826.9 L1524.7 828.3 L1522.1 829.7 L1519.4 831.1 L1516.8 832.5 L1514.2 834.0 L1511.5 835.4 L1508.9 836.9 L1506.3 838.3 L1503.7 839.8 L1501.1 841.3 L1498.5 842.8 L1495.9 844.3 L1493.4 845.8 L1490.8 847.4 L1488.2 848.9 L1485.7 850.5 L1483.1 852.1 L1480.6 853.6 L1478.0 855.2 L1475.5 856.8 L1473.0 858.5 L1470.5 860.1 L1468.0 861.7 L1465.5 863.4 L1463.0 865.1 L1460.5 866.7 L1458.0 868.4 L1455.6 870.1 L1453.1 871.9 L1450.7 873.6 L1448.2 875.3 L1445.8 877.1 L1443.4 878.8 L1440.9 880.6 L1438.5 882.3 L1436.1 884.1 L1433.7 885.9 L1431.3 887.7 L1428.9 889.5 L1426.5 891.4 L1424.2 893.2 L1421.8 895.0 L1419.4 896.9 L1417.1 898.7 L1414.7 900.6 L1412.4 902.4 L1410.0 904.3 L1407.7 906.2 L1405.3 908.1 L1403.0 910.0 L1400.7 911.9 L1398.4 913.8 L1396.1 915.7 L1393.8 917.6 L1391.5 919.5 L1389.2 921.4 L1386.9 923.4 L1384.6 925.3 L1382.3 927.2 L1380.1 929.2 L1377.8 931.1 L1375.5 933.1 L1373.3 935.1 L1371.0 937.0 L1368.7 939.0 L1366.5 940.9 L1364.2 942.9 L1362.0 944.9 L1359.8 946.9 L1357.5 948.8 L1355.3 950.8 L1353.1 952.8 L1350.8 954.8 L1348.6 956.8 L1346.4 958.8 L1344.2 960.7 L1341.9 962.7 L1339.7 964.7 L1337.5 966.7 L1335.3 968.7 L1333.1 970.7 L1330.8 972.7 L1328.6 974.7 L1326.4 976.7 L1324.2 978.7 L1322.0 980.7 L1319.7 982.7 L1317.5 984.7 L1315.3 986.7 L1313.0 988.7 L1310.8 990.7 L1308.6 992.6 L1306.3 994.6 L1304.1 996.6 L1301.8 998.6 L1299.6 1000.6 L1297.3 1002.6 L1295.1 1004.6 L1292.8 1006.6 L1290.5 1008.5 L1288.3 1010.5 L1286.0 1012.5 L1283.7 1014.5 L1281.4 1016.4 L1279.1 1018.4 L1276.8 1020.4 L1274.5 1022.3 L1272.2 1024.3 L1269.8 1026.3 L1267.5 1028.2 L1265.2 1030.2 L1262.8 1032.1 L1260.4 1034.0 L1258.1 1036.0 L1255.7 1037.9 L1253.3 1039.8 L1250.9 1041.8 L1248.5 1043.7 L1246.1 1045.6 L1243.6 1047.5 L1241.2 1049.4 L1238.7 1051.3 L1236.3 1053.2 L1233.8 1055.1 L1231.3 1056.9 L1228.8 1058.8 L1226.3 1060.6 L1223.8 1062.5 L1221.3 1064.3 L1218.8 1066.1 L1216.3 1067.9 L1213.7 1069.7 L1211.2 1071.4 L1208.6 1073.2 L1206.0 1074.9 L1203.4 1076.6 L1200.9 1078.3 L1198.3 1080.0 L1195.7 1081.6 L1193.0 1083.3 L1190.4 1084.9 L1187.8 1086.5 L1185.2 1088.1 L1182.5 1089.6 L1179.9 1091.1 L1177.2 1092.6 L1174.5 1094.1 L1171.9 1095.6 L1169.2 1097.0 L1166.5 1098.4 L1163.8 1099.7 L1161.1 1101.1 L1158.4 1102.4 L1155.7 1103.7 L1152.9 1104.9 L1150.2 1106.1 L1147.5 1107.3 L1144.7 1108.4 L1142.0 1109.6 L1139.2 1110.6 L1136.5 1111.7 L1133.7 1112.7 L1130.9 1113.7 L1128.1 1114.6 L1125.3 1115.5 L1122.5 1116.4 L1119.7 1117.2 L1116.9 1118.0 L1114.1 1118.7 L1111.3 1119.4 L1108.5 1120.1 L1105.6 1120.7 L1102.8 1121.2 L1100.0 1121.8 L1097.1 1122.2 L1094.3 1122.7 L1091.4 1123.1 L1088.6 1123.4 L1085.7 1123.7 L1082.8 1124.0 L1080.0 1124.2 L1077.1 1124.4 L1074.2 1124.6 L1071.3 1124.7 L1068.4 1124.7 L1065.5 1124.8 L1062.6 1124.8 L1059.7 1124.7 L1056.8 1124.7 L1053.9 1124.5 L1051.0 1124.4 L1048.1 1124.2 L1045.2 1124.0 L1042.3 1123.8 L1039.3 1123.5 L1036.4 1123.2 L1033.5 1122.9 L1030.6 1122.5 L1027.6 1122.1 L1024.7 1121.7 L1021.8 1121.2 L1018.8 1120.7 L1015.9 1120.2 L1012.9 1119.7 L1010.0 1119.2 L1007.1 1118.6 L1004.1 1118.0 L1001.2 1117.4 L998.2 1116.7 L995.3 1116.0 L992.3 1115.3 L989.4 1114.6 L986.5 1113.9 L983.5 1113.1 L980.6 1112.4 L977.6 1111.6 L974.7 1110.8 L971.7 1110.0 L968.8 1109.1 L965.8 1108.3 L962.9 1107.4 L960.0 1106.5 L957.0 1105.6 L954.1 1104.7 L951.1 1103.8 L948.2 1102.9 L945.3 1101.9 L942.3 1101.0 L939.4 1100.0 L936.5 1099.0 L933.5 1098.0 L930.6 1097.0 L927.7 1096.0 L924.8 1095.0 L921.8 1094.0 L918.9 1093.0 L916.0 1092.0 L913.1 1091.0 L910.2 1089.9 L907.3 1088.9 L904.4 1087.9 L901.5 1086.9 L898.6 1085.8 L895.7 1084.8 L892.8 1083.8 L890.0 1082.7 L887.1 1081.7 L884.2 1080.7 L881.3 1079.6 L878.5 1078.6 L875.6 1077.6 L872.7 1076.6 L869.9 1075.6 L867.0 1074.5 L864.2 1073.5 L861.3 1072.5 L858.5 1071.5 L855.7 1070.5 L852.8 1069.5 L850.0 1068.5 L847.1 1067.5 L844.3 1066.5 L841.5 1065.6 L838.7 1064.6 L835.8 1063.6 L833.0 1062.6 L830.2 1061.7 L827.4 1060.7 L824.5 1059.7 L821.7 1058.8 L818.9 1057.8 L816.1 1056.9 L813.3 1055.9 L810.4 1055.0 L807.6 1054.1 L804.8 1053.1 L802.0 1052.2 L799.2 1051.3 L796.4 1050.4 L793.5 1049.5 L790.7 1048.6 L787.9 1047.7 L785.1 1046.8 L782.3 1045.9 L779.4 1045.0 L776.6 1044.2 L773.8 1043.3 L771.0 1042.4 L768.1 1041.6 L765.3 1040.7 L762.5 1039.9 L759.6 1039.1 L756.8 1038.2 L754.0 1037.4 L751.1 1036.6 L748.3 1035.8 L745.4 1035.0 L742.6 1034.2 L739.7 1033.4 L736.9 1032.7 L734.0 1031.9 L731.1 1031.1 L728.3 1030.4 L725.4 1029.6 L722.5 1028.9 L719.6 1028.2 L716.8 1027.5 L713.9 1026.7 L711.0 1026.0 L708.1 1025.4 L705.2 1024.7 L702.3 1024.0 L699.4 1023.3 L696.5 1022.7 L693.5 1022.0 L690.6 1021.4 L687.7 1020.8 L684.8 1020.1 L681.8 1019.5 L678.9 1018.9 L675.9 1018.3 L673.0 1017.7 L670.0 1017.1 L667.1 1016.5 L664.1 1016.0 L661.2 1015.4 L658.2 1014.8 L655.3 1014.3 L652.3 1013.7 L649.3 1013.2 L646.4 1012.6 L643.4 1012.1 L640.4 1011.5 L637.4 1011.0 L634.5 1010.5 L631.5 1010.0 L628.5 1009.4 L625.5 1008.9 L622.5 1008.4 L619.6 1007.9 L616.6 1007.4 L613.6 1006.9 L610.6 1006.4 L607.6 1005.9 L604.7 1005.4 L601.7 1004.9 L598.7 1004.4 L595.7 1003.9 L592.7 1003.4 L589.7 1002.9 L586.8 1002.5 L583.8 1002.0 L580.8 1001.5 L577.8 1001.0 L574.8 1000.5 L571.9 1000.1 L568.9 999.6 L565.9 999.1 L562.9 998.7 L560.0 998.2 L557.0 997.7 L554.0 997.3 L551.0 996.8 L548.0 996.4 L545.1 995.9 L542.1 995.5 L539.1 995.0 L536.1 994.6 L533.1 994.1 L530.2 993.7 L527.2 993.2 L524.2 992.8 L521.2 992.4 L518.2 992.0 L515.3 991.5 L512.3 991.1 L509.3 990.7 L506.3 990.3 L503.4 989.9 L500.4 989.4 L497.4 989.0 L494.4 988.6 L491.4 988.2 L488.5 987.8 L485.5 987.4 L482.5 987.1 L479.5 986.7 L476.6 986.3 L473.6 985.9 L470.6 985.5 L467.6 985.1 L464.6 984.8 L461.7 984.4 L458.7 984.0 L455.7 983.7 L452.7 983.3 L449.8 983.0 L446.8 982.6 L443.8 982.3 L440.8 981.9 L437.8 981.6 L434.9 981.3 L431.9 980.9 L428.9 980.6 L425.9 980.3 L422.9 979.9 L420.0 979.6 L417.0 979.3 L414.0 979.0 L411.0 978.7 L408.0 978.4 L405.1 978.1 L402.1 977.8 L399.1 977.5" stroke="#ff0000" stroke-width="8.0"/>
<path d="M388.8 1060.0 L391.7 1059.3 L394.5 1058.5 L397.4 1057.8 L400.3 1057.0 L403.1 1056.3 L406.0 1055.6 L408.9 1054.9 L411.7 1054.2 L414.6 1053.5 L417.5 1052.8 L420.4 1052.1 L423.3 1051.4 L426.2 1050.8 L429.1 1050.1 L432.0 1049.4 L434.9 1048.8 L437.8 1048.1 L440.7 1047.5 L443.6 1046.8 L446.5 1046.2 L449.4 1045.6 L452.3 1044.9 L455.3 1044.3 L458.2 1043.7 L461.1 1043.1 L464.0 1042.5 L467.0 1041.9 L469.9 1041.3 L472.8 1040.7 L475.8 1040.1 L478.7 1039.5 L481.6 1038.9 L484.6 1038.3 L487.5 1037.7 L490.5 1037.1 L493.4 1036.6 L496.4 1036.0 L499.3 1035.4 L502.3 1034.9 L505.3 1034.3 L508.2 1033.8 L511.2 1033.2 L514.1 1032.7 L517.1 1032.1 L520.1 1031.6 L523.0 1031.0 L526.0 1030.5 L529.0 1029.9 L531.9 1029.4 L534.9 1028.9 L537.9 1028.3 L540.9 1027.8 L543.8 1027.3 L546.8 1026.7 L549.8 1026.2 L552.8 1025.7 L555.8 1025.2 L558.7 1024.6 L561.7 1024.1 L564.7 1023.6 L567.7 1023.1 L570.7 1022.6 L573.7 1022.0 L576.7 1021.5 L579.6 1021.0 L582.6 1020.5 L585.6 1020.0 L588.6 1019.4 L591.6 1018.9 L594.6 1018.4 L597.6 1017.9 L600.6 1017.4 L603.6 1016.9 L606.6 1016.3 L609.5 1015.8 L612.5 1015.3 L615.5 1014.8 L618.5 1014.3 L621.5 1013.7 L624.5 1013.2 L627.5 1012.7 L630.5 1012.2 L633.5 1011.6 L636.5 1011.1 L639.5 1010.6 L642.5 1010.0 L645.4 1009.5 L648.4 1009.0 L651.4 1008.4 L654.4 1007.9 L657.4 1007.3 L660.4 1006.8 L663.4 1006.3 L666.4 1005.7 L669.3 1005.2 L672.3 1004.6 L675.3 1004.0 L678.3 1003.5 L681.3 1002.9 L684.3 1002.4 L687.2 1001.8 L690.2 1001.2 L693.2 1000.6 L696.2 1000.1 L699.1 999.5 L702.1 998.9 L705.1 998.3 L708.1 997.7 L711.0 997.1 L714.0 996.5 L717.0 995.9 L719.9 995.3 L722.9 994.7 L725.9 994.0 L728.8 993.4 L731.8 992.8 L734.7 992.1 L737.7 991.5 L740.6 990.9 L743.6 990.2 L746.5 989.6 L749.5 988.9 L752.4 988.2 L755.4 987.6 L758.3 986.9 L761.3 986.2 L764.2 985.5 L767.1 984.8 L770.1 984.1 L773.0 983.4 L775.9 982.7 L778.8 982.0 L781.8 981.3 L784.7 980.5 L787.6 979.8 L790.5 979.0 L793.4 978.3 L796.3 977.5 L799.2 976.8 L802.1 976.0 L805.0 975.2 L807.9 974.4 L810.8 973.6 L813.7 972.8 L816.6 972.0 L819.5 971.2 L822.4 970.4 L825.3 969.5 L828.1 968.7 L831.0 967.8 L833.9 967.0 L836.7 966.1 L839.6 965.2 L842.5 964.4 L845.3 963.5 L848.2 962.6 L851.0 961.6 L853.8 960.7 L856.7 959.8 L859.5 958.9 L862.4 957.9 L865.2 957.0 L868.0 956.0 L870.8 955.0 L873.6 954.0 L876.5 953.0 L879.3 952.0 L882.1 951.0 L884.9 950.0 L887.7 949.0 L890.5 947.9 L893.2 946.9 L896.0 945.8 L898.8 944.7 L901.6 943.6 L904.3 942.5 L907.1 941.4 L909.9 940.3 L912.6 939.2 L915.4 938.0 L918.1 936.9 L920.9 935.7 L923.6 934.5 L926.3 933.4 L929.1 932.2 L931.8 931.0 L934.5 929.7 L937.2 928.5 L939.9 927.2 L942.6 926.0 L945.3 924.7 L948.0 923.4 L950.7 922.1 L953.4 920.8 L956.0 919.5 L958.7 918.2 L961.4 916.8 L964.0 915.5 L966.7 914.1 L969.3 912.7 L972.0 911.3 L974.6 909.9 L977.2 908.5 L979.9 907.1 L982.5 905.6 L985.1 904.2 L987.7 902.7 L990.3 901.3 L992.9 899.8 L995.5 898.3 L998.1 896.8 L1000.7 895.2 L1003.3 893.7 L1005.8 892.2 L1008.4 890.6 L1011.0 889.1 L1013.5 887.5 L1016.1 885.9 L1018.6 884.3 L1021.2 882.7 L1023.7 881.1 L1026.2 879.5 L1028.8 877.9 L1031.3 876.2 L1033.8 874.6 L1036.3 872.9 L1038.8 871.2 L1041.3 869.5 L1043.8 867.9 L1046.3 866.2 L1048.8 864.5 L1051.2 862.7 L1053.7 861.0 L1056.2 859.3 L1058.6 857.5 L1061.1 855.8 L1063.6 854.0 L1066.0 852.2 L1068.4 850.5 L1070.9 848.7 L1073.3 846.9 L1075.7 845.1 L1078.2 843.3 L1080.6 841.5 L1083.0 839.6 L1085.4 837.8 L1087.8 835.9 L1090.2 834.1 L1092.6 832.2 L1094.9 830.4 L1097.3 828.5 L1099.7 826.6 L1102.1 824.7 L1104.4 822.8 L1106.8 820.9 L1109.1 819.0 L1111.5 817.1 L1113.8 815.2 L1116.2 813.2 L1118.5 811.3 L1120.8 809.4 L1123.1 807.4 L1125.5 805.5 L1127.8 803.5 L1130.1 801.5 L1132.4 799.6 L1134.7 797.6 L1137.0 795.6 L1139.2 793.6 L1141.5 791.6 L1143.8 789.6 L1146.1 787.6 L1148.3 785.6 L1150.6 783.6 L1152.8 781.5 L1155.1 779.5 L1157.3 777.5 L1159.6 775.4 L1161.8 773.4 L1164.0 771.3 L1166.2 769.3 L1168.5 767.2 L1170.7 765.1 L1172.9 763.1 L1175.1 761.0 L1177.3 758.9 L1179.5 756.8 L1181.7 754.8 L1183.8 752.7 L1186.0 750.6 L1188.2 748.5 L1190.4 746.4 L1192.5 744.3 L1194.7 742.1 L1196.8 740.0 L1199.0 737.9 L1201.1 735.8 L1203.2 733.7 L1205.4 731.6 L1207.5 729.4 L1209.6 727.3 L1211.7 725.2 L1213.8 723.0 L1215.9 720.9 L1218.0 718.7 L1220.1 716.6 L1222.2 714.4 L1224.3 712.3 L1226.4 710.1 L1228.5 708.0 L1230.5 705.8 L1232.6 703.7 L1234.6 701.5 L1236.7 699.3 L1238.7 697.2 L1240.8 695.0 L1242.8 692.8 L1244.9 690.7 L1246.9 688.5 L1248.9 686.3 L1250.9 684.2 L1253.0 682.0 L1255.0 679.8 L1257.0 677.6 L1259.0 675.5 L1261.1 673.3 L1263.1 671.1 L1265.1 669.0 L1267.1 666.8 L1269.1 664.6 L1271.2 662.5 L1273.2 660.3 L1275.2 658.1 L1277.2 656.0 L1279.3 653.8 L1281.3 651.7 L1283.3 649.5 L1285.4 647.4 L1287.4 645.2 L1289.5 643.1 L1291.5 640.9 L1293.6 638.8 L1295.6 636.7 L1297.7 634.5 L1299.8 632.4 L1301.9 630.3 L1303.9 628.2 L1306.0 626.1 L1308.1 624.0 L1310.3 621.9 L1312.4 619.8 L1314.5 617.7 L1316.6 615.6 L1318.8 613.5 L1320.9 611.5 L1323.1 609.4 L1325.3 607.3 L1327.4 605.3 L1329.6 603.2 L1331.8 601.2 L1334.0 599.1 L1336.2 597.1 L1338.4 595.0 L1340.6 593.0 L1342.8 591.0 L1345.1 589.0 L1347.3 586.9 L1349.5 584.9 L1351.8 582.9 L1354.1 580.9 L1356.3 578.9 L1358.6 576.9 L1360.9 575.0 L1363.2 573.0 L1365.4 571.0 L1367.7 569.0 L1370.0 567.0 L1372.4 565.1 L1374.7 563.1 L1377.0 561.2 L1379.3 559.2 L1381.7 557.3 L1384.0 555.3 L1386.3 553.4 L1388.7 551.5 L1391.1 549.6 L1393.4 547.7 L1395.8 545.8 L1398.2 543.9 L1400.6 542.0 L1403.0 540.1 L1405.4 538.3 L1407.8 536.4 L1410.2 534.6 L1412.7 532.8 L1415.1 531.0 L1417.6 529.2 L1420.0 527.4 L1422.5 525.6 L1425.0 523.9 L1427.4 522.1 L1429.9 520.4 L1432.4 518.7 L1434.9 517.0 L1437.4 515.3 L1440.0 513.7 L1442.5 512.0 L1445.1 510.4 L1447.6 508.8 L1450.2 507.2 L1452.7 505.7 L1455.3 504.1 L1457.9 502.6 L1460.5 501.1 L1463.1 499.6 L1465.8 498.1 L1468.4 496.7 L1471.0 495.3 L1473.7 493.9 L1476.3 492.5 L1479.0 491.1 L1481.7 489.8 L1484.4 488.5 L1487.1 487.2 L1489.8 485.9 L1492.5 484.7 L1495.2 483.5 L1498.0 482.2 L1500.7 481.1 L1503.5 479.9 L1506.2 478.8 L1509.0 477.6 L1511.8 476.5 L1514.5 475.4 L1517.3 474.4 L1520.1 473.3 L1522.9 472.3 L1525.7 471.3 L1528.5 470.4 L1531.4 469.4 L1534.2 468.5 L1537.0 467.6 L1539.9 466.7 L1542.7 465.8 L1545.6 464.9 L1548.4 464.1 L1551.3 463.3 L1554.2 462.5 L1557.1 461.7 L1560.0 461.0 L1562.8 460.3 L1565.7 459.6 L1568.6 458.9 L1571.5 458.2 L1574.5 457.6 L1577.4 456.9 L1580.3 456.3 L1583.2 455.7 L1586.1 455.2 L1589.1 454.6 L1592.0 454.1 L1594.9 453.6 L1597.9 453.1 L1600.8 452.6 L1603.8 452.2 L1606.7 451.8 L1609.7 451.4 L1612.7 451.0 L1615.6 450.6 L1618.6 450.3 L1621.6 450.0 L1624.5 449.7 L1627.5 449.4 L1630.5 449.1 L1633.5 448.9 L1636.4 448.6 L1639.4 448.4 L1642.4 448.3 L1645.4 448.1 L1648.4 447.9 L1651.4 447.8 L1654.4 447.7 L1657.3 447.6 L1660.3 447.6 L1663.3 447.5 L1666.3 447.5 L1669.3 447.5 L1672.3 447.5 L1675.3 447.5 L1678.3 447.6 L1681.3 447.6 L1684.3 447.7 L1687.3 447.8 L1690.3 448.0 L1693.3 448.1 L1696.3 448.3 L1699.2 448.5 L1702.2 448.7 L1705.2 448.9 L1708.2 449.1 L1711.2 449.4 L1714.2 449.7 L1717.2 450.0 L1720.2 450.3 L1723.1 450.6 L1726.1 451.0 L1729.1 451.4 L1732.1 451.8 L1735.0 452.2 L1738.0 452.6 L1741.0 453.1 L1743.9 453.5 L1746.9 454.0 L1749.9 454.5 L1752.8 455.1 L1755.8 455.6 L1758.7 456.1 L1761.7 456.7 L1764.6 457.3 L1767.6 457.9 L1770.5 458.5 L1773.5 459.2 L1776.4 459.8 L1779.3 460.5 L1782.3 461.1 L1785.2 461.8 L1788.1 462.5 L1791.1 463.2 L1794.0 464.0 L1796.9 464.7 L1799.9 465.4 L1802.8 466.2 L1805.7 467.0 L1808.6 467.7 L1811.5 468.5 L1814.5 469.3 L1817.4 470.1 L1820.3 471.0 L1823.2 471.8 L1826.1 472.6 L1829.0 473.5 L1831.9 474.3 L1834.9 475.2 L1837.8 476.1 L1840.7 476.9 L1843.6 477.8 L1846.5 478.7 L1849.4 479.6 L1852.3 480.5 L1855.2 481.4 L1858.1 482.3 L1861.0 483.3 L1863.9 484.2 L1866.8 485.1 L1869.7 486.0 L1872.5 487.0 L1875.4 487.9 L1878.3 488.8 L1881.2 489.8 L1884.1 490.7 L1887.0 491.7 L1889.9 492.6 L1892.8 493.6 L1895.7 494.5 L1898.5 495.5 L1901.4 496.4 L1904.3 497.4 L1907.2 498.3 L1910.1 499.3 L1913.0 500.2 L1915.9 501.1 L1918.7 502.1 L1921.6 503.0 L1924.5 504.0 L1927.4 504.9 L1930.3 505.8 L1933.1 506.8 L1936.0 507.7 L1938.9 508.6 L1941.8 509.5 L1944.7 510.4 L1947.5 511.3 L1950.4 512.2 L1953.3 513.1 L1956.2 514.0 L1959.1 514.9 L1961.9 515.8 L1964.8 516.7 L1967.7 517.5 L1970.6 518.4 L1973.5 519.2 L1976.3 520.1 L1979.2 520.9 L1982.1 521.7 L1985.0 522.6 L1987.9 523.4 L1990.7 524.2 L1993.6 525.0 L1996.5 525.8 L1999.4 526.6 L2002.3 527.4 L2005.2 528.2 L2008.0 529.0 L2010.9 529.8 L2013.8 530.6 L2016.7 531.3 L2019.6 532.1 L2022.5 532.9 L2025.4 533.6 L2028.2 534.4 L2031.1 535.1 L2034.0 535.9 L2036.9 536.6 L2039.8 537.4 L2042.7 538.1 L2045.6 538.9 L2048.5 539.6 L2051.4 540.3 L2054.3 541.1 L2057.2 541.8 L2060.1 542.5 L2063.0 543.2 L2065.9 544.0 L2068.8 544.7 L2071.7 545.4 L2074.6 546.1 L2077.5 546.8 L2080.4 547.6 L2083.3 548.3 L2086.2 549.0 L2089.1 549.7 L2092.0 550.4 L2094.9 551.1 L2097.8 551.8 L2100.8 552.5 L2103.7 553.2 L2106.6 554.0 L2109.5 554.7 L2112.4 555.4 L2115.4 556.1 L2118.3 556.8 L2121.2 557.5 L2124.1 558.2 L2127.1 558.9 L2130.0 559.6 L2132.9 560.4 L2135.9 561.1 L2138.8 561.8 L2141.7 562.5 L2144.7 563.2 L2147.6 563.9 L2150.6 564.7 L2153.5 565.4 L2156.4 566.1 L2159.4 566.8 L2162.3 567.6 L2165.3 568.3 L2162.5 569.5 L2159.8 570.7 L2157.0 571.8 L2154.2 573.0 L2151.4 574.1 L2148.7 575.2 L2145.9 576.3 L2143.1 577.4 L2140.3 578.5 L2137.5 579.6 L2134.7 580.7 L2131.9 581.7 L2129.1 582.8 L2126.3 583.8 L2123.5 584.9 L2120.6 585.9 L2117.8 586.9 L2115.0 587.9 L2112.2 588.9 L2109.3 589.9 L2106.5 590.9 L2103.7 591.8 L2100.8 592.8 L2098.0 593.8 L2095.1 594.7 L2092.3 595.6 L2089.4 596.6 L2086.6 597.5 L2083.7 598.4 L2080.8 599.3 L2078.0 600.2 L2075.1 601.1 L2072.2 602.0 L2069.4 602.9 L2066.5 603.7 L2063.6 604.6 L2060.7 605.5 L2057.8 606.3 L2055.0 607.2 L2052.1 608.0 L2049.2 608.8 L2046.3 609.7 L2043.4 610.5 L2040.5 611.3 L2037.6 612.1 L2034.7 612.9 L2031.8 613.7 L2028.9 614.5 L2026.0 615.3 L2023.1 616.1 L2020.2 616.9 L2017.3 617.6 L2014.4 618.4 L2011.4 619.2 L2008.5 619.9 L2005.6 620.7 L2002.7 621.5 L1999.8 622.2 L1996.9 623.0 L1993.9 623.7 L1991.0 624.5 L1988.1 625.2 L1985.2 626.0 L1982.3 626.7 L1979.3 627.4 L1976.4 628.2 L1973.5 628.9 L1970.5 629.6 L1967.6 630.3 L1964.7 631.1 L1961.8 631.8 L1958.8 632.5 L1955.9 633.2 L1953.0 634.0 L1950.0 634.7 L1947.1 635.4 L1944.2 636.1 L1941.2 636.8 L1938.3 637.5 L1935.4 638.3 L1932.5 639.0 L1929.5 639.7 L1926.6 640.4 L1923.7 641.1 L1920.7 641.8 L1917.8 642.5 L1914.9 643.3 L1911.9 644.0 L1909.0 644.7 L1906.1 645.4 L1903.1 646.1 L1900.2 646.9 L1897.3 647.6 L1894.4 648.3 L1891.4 649.0 L1888.5 649.8 L1885.6 650.5 L1882.7 651.2 L1879.7 652.0 L1876.8 652.7 L1873.9 653.5 L1871.0 654.2 L1868.1 655.0 L1865.1 655.7 L1862.2 656.5 L1859.3 657.2 L1856.4 658.0 L1853.5 658.8 L1850.6 659.5 L1847.7 660.3 L1844.8 661.1 L1841.9 661.9 L1839.0 662.6 L1836.1 663.4 L1833.2 664.2 L1830.3 665.0 L1827.4 665.8 L1824.5 666.6 L1821.6 667.5 L1818.7 668.3 L1815.8 669.1 L1812.9 669.9 L1810.0 670.8 L1807.2 671.6 L1804.3 672.5 L1801.4 673.3 L1798.5 674.2 L1795.7 675.1 L1792.8 676.0 L1789.9 676.8 L1787.1 677.7 L1784.2 678.6 L1781.3 679.5 L1778.5 680.5 L1775.6 681.4 L1772.8 682.3 L1769.9 683.2 L1767.1 684.2 L1764.2 685.1 L1761.4 686.1 L1758.6 687.1 L1755.7 688.0 L1752.9 689.0 L1750.1 690.0 L1747.3 691.0 L1744.5 692.1 L1741.6 693.1 L1738.8 694.1 L1736.0 695.2 L1733.2 696.2 L1730.4 697.3 L1727.6 698.3 L1724.8 699.4 L1722.1 700.5 L1719.3 701.6 L1716.5 702.7 L1713.7 703.9 L1710.9 705.0 L1708.2 706.1 L1705.4 707.3 L1702.7 708.5 L1699.9 709.7 L1697.2 710.9 L1694.4 712.1 L1691.7 713.3 L1688.9 714.5 L1686.2 715.7 L1683.5 717.0 L1680.8 718.3 L1678.0 719.5 L1675.3 720.8 L1672.6 722.1 L1669.9 723.4 L1667.2 724.7 L1664.5 726.1 L1661.8 727.4 L1659.1 728.7 L1656.5 730.1 L1653.8 731.5 L1651.1 732.8 L1648.4 734.2 L1645.8 735.6 L1643.1 737.0 L1640.5 738.4 L1637.8 739.9 L1635.2 741.3 L1632.5 742.7 L1629.9 744.2 L1627.3 745.6 L1624.6 747.1 L1622.0 748.5 L1619.4 750.0 L1616.8 751.5 L1614.2 753.0 L1611.6 754.5 L1609.0 756.0 L1606.4 757.5 L1603.8 759.0 L1601.2 760.6 L1598.6 762.1 L1596.0 763.7 L1593.5 765.2 L1590.9 766.8 L1588.3 768.3 L1585.8 769.9 L1583.2 771.5 L1580.7 773.1 L1578.2 774.7 L1575.6 776.3 L1573.1 777.9 L1570.6 779.5 L1568.1 781.1 L1565.5 782.8 L1563.0 784.4 L1560.5 786.1 L1558.1 787.7 L1555.6 789.4 L1553.1 791.1 L1550.6 792.7 L1548.2 794.4 L1545.7 796.1 L1543.2 797.8 L1540.8 799.5 L1538.3 801.3 L1535.9 803.0 L1533.5 804.7 L1531.1 806.5 L1528.6 808.2 L1526.2 810.0 L1523.8 811.8 L1521.4 813.5 L1519.1 815.3 L1516.7 817.1 L1514.3 819.0 L1511.9 820.8 L1509.6 822.6 L1507.2 824.4 L1504.9 826.3 L1502.6 828.1 L1500.2 830.0 L1497.9 831.9 L1495.6 833.8 L1493.3 835.7 L1491.0 837.6 L1488.7 839.5 L1486.4 841.4 L1484.2 843.4 L1481.9 845.3 L1479.6 847.3 L1477.4 849.3 L1475.2 851.3 L1472.9 853.2 L1470.7 855.3 L1468.5 857.3 L1466.3 859.3 L1464.1 861.3 L1461.9 863.4 L1459.7 865.5 L1457.6 867.5 L1455.4 869.6 L1453.3 871.7 L1451.1 873.9 L1449.0 876.0 L1446.9 878.1 L1444.8 880.3 L1442.7 882.4 L1440.6 884.6 L1438.5 886.8 L1436.4 889.0 L1434.3 891.2 L1432.3 893.4 L1430.2 895.6 L1428.2 897.8 L1426.1 900.1 L1424.1 902.3 L1422.1 904.6 L1420.1 906.8 L1418.1 909.1 L1416.1 911.4 L1414.1 913.6 L1412.1 915.9 L1410.1 918.2 L1408.1 920.5 L1406.1 922.8 L1404.2 925.1 L1402.2 927.4 L1400.3 929.8 L1398.3 932.1 L1396.4 934.4 L1394.5 936.7 L1392.5 939.0 L1390.6 941.4 L1388.7 943.7 L1386.8 946.0 L1384.9 948.4 L1383.0 950.7 L1381.1 953.0 L1379.2 955.4 L1377.3 957.7 L1375.4 960.1 L1373.5 962.4 L1371.6 964.8 L1369.8 967.1 L1367.9 969.4 L1366.0 971.8 L1364.2 974.1 L1362.3 976.5 L1360.5 978.8 L1358.6 981.2 L1356.8 983.5 L1354.9 985.9 L1353.1 988.2 L1351.2 990.6 L1349.4 992.9 L1347.5 995.3 L1345.7 997.7 L1343.9 1000.0 L1342.0 1002.4 L1340.2 1004.7 L1338.4 1007.1 L1336.6 1009.4 L1334.7 1011.8 L1332.9 1014.2 L1331.1 1016.5 L1329.3 1018.9 L1327.5 1021.2 L1325.6 1023.6 L1323.8 1025.9 L1322.0 1028.3 L1320.2 1030.7 L1318.4 1033.0 L1316.6 1035.4 L1314.7 1037.7 L1312.9 1040.1 L1311.1 1042.4 L1309.3 1044.8 L1307.5 1047.1 L1305.7 1049.5 L1303.8 1051.9 L1302.0 1054.2 L1300.2 1056.6 L1298.4 1058.9 L1296.6 1061.3 L1294.7 1063.6 L1292.9 1066.0 L1291.1 1068.3 L1289.3 1070.7 L1287.4 1073.0 L1285.6 1075.4 L1283.8 1077.7 L1281.9 1080.0 L1280.1 1082.4 L1278.2 1084.7 L1276.4 1087.1 L1274.6 1089.4 L1272.7 1091.7 L1270.9 1094.1 L1269.0 1096.4 L1267.1 1098.8 L1265.3 1101.1 L1263.4 1103.4 L1261.6 1105.8 L1259.7 1108.1 L1257.8 1110.4 L1255.9 1112.7 L1254.1 1115.1 L1252.2 1117.4 L1250.3 1119.7 L1248.4 1122.0 L1246.5 1124.3 L1244.6 1126.6 L1242.7 1129.0 L1240.8 1131.3 L1238.8 1133.6 L1236.9 1135.9 L1235.0 1138.2 L1233.1 1140.5 L1231.1 1142.8 L1229.2 1145.1 L1227.2 1147.4 L1225.3 1149.7 L1223.3 1152.0 L1221.3 1154.3 L1219.3 1156.5 L1217.4 1158.8 L1215.4 1161.1 L1213.4 1163.4 L1211.4 1165.7 L1209.4 1167.9 L1207.4 1170.2 L1205.3 1172.5 L1203.3 1174.7 L1201.3 1177.0 L1199.2 1179.2 L1197.2 1181.5 L1195.1 1183.8 L1193.0 1186.0 L1191.0 1188.2 L1188.9 1190.5 L1186.8 1192.7 L1184.7 1195.0 L1182.6 1197.2 L1180.5 1199.4 L1178.3 1201.7 L1176.2 1203.9 L1174.1 1206.1 L1171.9 1208.3 L1169.7 1210.5 L1167.6 1212.7 L1165.4 1214.9 L1163.2 1217.1 L1161.0 1219.3 L1158.8 1221.5 L1156.6 1223.6 L1154.3 1225.7 L1152.1 1227.9 L1149.8 1230.0 L1147.6 1232.1 L1145.3 1234.1 L1143.0 1236.2 L1140.7 1238.2 L1138.4 1240.2 L1136.0 1242.2 L1133.7 1244.2 L1131.4 1246.1 L1129.0 1248.0 L1126.6 1249.9 L1124.2 1251.7 L1121.8 1253.5 L1119.4 1255.3 L1117.0 1257.1 L1114.5 1258.8 L1112.1 1260.4 L1109.6 1262.1 L1107.1 1263.7 L1104.6 1265.2 L1102.1 1266.8 L1099.5 1268.2 L1097.0 1269.7 L1094.4 1271.0 L1091.8 1272.4 L1089.2 1273.7 L1086.6 1274.9 L1084.0 1276.1 L1081.4 1277.3 L1078.7 1278.3 L1076.0 1279.4 L1073.3 1280.4 L1070.6 1281.3 L1067.9 1282.2 L1065.1 1283.0 L1062.3 1283.7 L1059.6 1284.4 L1056.7 1285.0 L1053.9 1285.6 L1051.1 1286.1 L1048.2 1286.6 L1045.4 1287.0 L1042.5 1287.3 L1039.6 1287.6 L1036.7 1287.8 L1033.8 1288.0 L1030.9 1288.1 L1027.9 1288.2 L1025.0 1288.2 L1022.0 1288.2 L1019.1 1288.1 L1016.1 1288.0 L1013.1 1287.9 L1010.1 1287.6 L1007.1 1287.4 L1004.2 1287.1 L1001.2 1286.8 L998.2 1286.4 L995.2 1286.0 L992.2 1285.5 L989.2 1285.0 L986.2 1284.5 L983.2 1283.9 L980.2 1283.3 L977.2 1282.6 L974.2 1281.9 L971.2 1281.2 L968.3 1280.5 L965.3 1279.7 L962.3 1278.9 L959.4 1278.0 L956.4 1277.2 L953.5 1276.3 L950.6 1275.3 L947.6 1274.4 L944.7 1273.4 L941.8 1272.4 L938.9 1271.4 L936.1 1270.3 L933.2 1269.3 L930.4 1268.2 L927.5 1267.0 L924.7 1265.9 L921.9 1264.8 L919.1 1263.6 L916.3 1262.4 L913.5 1261.2 L910.8 1259.9 L908.0 1258.7 L905.2 1257.4 L902.5 1256.1 L899.8 1254.8 L897.1 1253.5 L894.3 1252.2 L891.6 1250.9 L888.9 1249.5 L886.2 1248.1 L883.6 1246.7 L880.9 1245.3 L878.2 1243.9 L875.6 1242.5 L872.9 1241.1 L870.2 1239.7 L867.6 1238.2 L865.0 1236.7 L862.3 1235.3 L859.7 1233.8 L857.1 1232.3 L854.4 1230.8 L851.8 1229.3 L849.2 1227.8 L846.6 1226.3 L844.0 1224.8 L841.4 1223.3 L838.8 1221.8 L836.2 1220.3 L833.6 1218.8 L831.0 1217.2 L828.4 1215.7 L825.8 1214.2 L823.2 1212.7 L820.6 1211.1 L818.0 1209.6 L815.4 1208.1 L812.8 1206.5 L810.2 1205.0 L807.6 1203.5 L805.0 1202.0 L802.4 1200.5 L799.8 1199.0 L797.2 1197.5 L794.6 1196.0 L792.0 1194.5 L789.4 1193.0 L786.8 1191.5 L784.2 1190.1 L781.5 1188.6 L778.9 1187.1 L776.3 1185.7 L773.6 1184.3 L771.0 1182.8 L768.3 1181.4 L765.7 1180.0 L763.0 1178.6 L760.4 1177.3 L757.7 1175.9 L755.0 1174.5 L752.4 1173.2 L749.7 1171.8 L747.0 1170.5 L744.3 1169.2 L741.6 1167.9 L738.9 1166.6 L736.2 1165.3 L733.5 1164.0 L730.8 1162.8 L728.0 1161.5 L725.3 1160.2 L722.6 1159.0 L719.9 1157.8 L717.1 1156.5 L714.4 1155.3 L711.6 1154.1 L708.9 1152.9 L706.1 1151.7 L703.4 1150.6 L700.6 1149.4 L697.8 1148.2 L695.1 1147.1 L692.3 1145.9 L689.5 1144.8 L686.7 1143.7 L684.0 1142.6 L681.2 1141.5 L678.4 1140.4 L675.6 1139.3 L672.8 1138.2 L670.0 1137.1 L667.2 1136.0 L664.4 1135.0 L661.5 1133.9 L658.7 1132.9 L655.9 1131.8 L653.1 1130.8 L650.3 1129.8 L647.4 1128.8 L644.6 1127.8 L641.8 1126.8 L638.9 1125.8 L636.1 1124.8 L633.2 1123.8 L630.4 1122.8 L627.5 1121.9 L624.7 1120.9 L621.8 1120.0 L619.0 1119.0 L616.1 1118.1 L613.2 1117.2 L610.4 1116.2 L607.5 1115.3 L604.6 1114.4 L601.8 1113.5 L598.9 1112.6 L596.0 1111.7 L593.1 1110.8 L590.2 1109.9 L587.4 1109.1 L584.5 1108.2 L581.6 1107.3 L578.7 1106.5 L575.8 1105.6 L572.9 1104.8 L570.0 1104.0 L567.1 1103.1 L564.2 1102.3 L561.3 1101.5 L558.4 1100.7 L555.5 1099.8 L552.6 1099.0 L549.7 1098.2 L546.8 1097.4 L543.9 1096.7 L541.0 1095.9 L538.0 1095.1 L535.1 1094.3 L532.2 1093.5 L529.3 1092.8 L526.4 1092.0 L523.5 1091.3 L520.5 1090.5 L517.6 1089.7 L514.7 1089.0 L511.8 1088.3 L508.8 1087.5 L505.9 1086.8 L503.0 1086.1 L500.1 1085.3 L497.1 1084.6 L494.2 1083.9 L491.3 1083.2 L488.4 1082.5 L485.4 1081.8 L482.5 1081.1 L479.6 1080.4 L476.6 1079.7 L473.7 1079.0 L470.8 1078.3 L467.8 1077.6 L464.9 1076.9 L462.0 1076.2 L459.0 1075.6 L456.1 1074.9 L453.2 1074.2 L450.3 1073.5 L447.3 1072.9 L444.4 1072.2 L441.5 1071.6 L438.5 1070.9 L435.6 1070.2 L432.7 1069.6 L429.7 1068.9 L426.8 1068.3 L423.9 1067.6 L421.0 1067.0 L418.0 1066.3 L415.1 1065.7 L412.2 1065.1 L409.3 1064.4 L406.3 1063.8 L403.4 1063.1 L400.5 1062.5 L397.6 1061.9 L394.6 1061.3 L391.7 1060.6 L388.8 1060.0" stroke="#008000" stroke-width="8.0"/>
<path d="M2192.5 352.0 L2189.9 353.4 L2187.3 354.8 L2184.6 356.2 L2182.0 357.7 L2179.4 359.1 L2176.7 360.5 L2174.1 361.9 L2171.4 363.3 L2168.8 364.7 L2166.1 366.0 L2163.5 367.4 L2160.8 368.8 L2158.1 370.2 L2155.5 371.5 L2152.8 372.9 L2150.1 374.2 L2147.5 375.6 L2144.8 376.9 L2142.1 378.3 L2139.4 379.6 L2136.7 380.9 L2134.0 382.2 L2131.3 383.6 L2128.6 384.9 L2126.0 386.2 L2123.3 387.5 L2120.6 388.8 L2117.8 390.1 L2115.1 391.4 L2112.4 392.7 L2109.7 394.0 L2107.0 395.3 L2104.3 396.5 L2101.6 397.8 L2098.9 399.1 L2096.1 400.4 L2093.4 401.6 L2090.7 402.9 L2088.0 404.2 L2085.2 405.4 L2082.5 406.7 L2079.8 407.9 L2077.0 409.2 L2074.3 410.5 L2071.6 411.7 L2068.8 412.9 L2066.1 414.2 L2063.4 415.4 L2060.6 416.7 L2057.9 417.9 L2055.1 419.1 L2052.4 420.4 L2049.7 421.6 L2046.9 422.8 L2044.2 424.1 L2041.4 425.3 L2038.7 426.5 L2035.9 427.7 L2033.2 429.0 L2030.4 430.2 L2027.7 431.4 L2024.9 432.6 L2022.2 433.9 L2019.4 435.1 L2016.6 436.3 L2013.9 437.5 L2011.1 438.7 L2008.4 440.0 L2005.6 441.2 L2002.9 442.4 L2000.1 443.6 L1997.4 444.8 L1994.6 446.0 L1991.8 447.3 L1989.1 448.5 L1986.3 449.7 L1983.6 450.9 L1980.8 452.1 L1978.1 453.3 L1975.3 454.6 L1972.6 455.8 L1969.8 457.0 L1967.0 458.2 L1964.3 459.4 L1961.5 460.7 L1958.8 461.9 L1956.0 463.1 L1953.3 464.4 L1950.5 465.6 L1947.8 466.8 L1945.0 468.0 L1942.3 469.3 L1939.5 470.5 L1936.8 471.8 L1934.0 473.0 L1931.3 474.2 L1928.5 475.5 L1925.8 476.7 L1923.1 478.0 L1920.3 479.2 L1917.6 480.5 L1914.8 481.7 L1912.1 483.0 L1909.4 484.3 L1906.6 485.5 L1903.9 486.8 L1901.2 488.1 L1898.5 489.3 L1895.7 490.6 L1893.0 491.9 L1890.3 493.2 L1887.6 494.5 L1884.8 495.7 L1882.1 497.0 L1879.4 498.3 L1876.7 499.6 L1874.0 500.9 L1871.3 502.2 L1868.6 503.6 L1865.9 504.9 L1863.2 506.2 L1860.5 507.5 L1857.8 508.9 L1855.1 510.2 L1852.4 511.5 L1849.7 512.9 L1847.0 514.2 L1844.3 515.6 L1841.6 516.9 L1838.9 518.3 L1836.3 519.7 L1833.6 521.0 L1830.9 522.4 L1828.3 523.8 L1825.6 525.2 L1822.9 526.6 L1820.3 528.0 L1817.6 529.4 L1815.0 530.8 L1812.3 532.2 L1809.7 533.6 L1807.0 535.1 L1804.4 536.5 L1801.7 537.9 L1799.1 539.4 L1796.5 540.8 L1793.9 542.3 L1791.2 543.8 L1788.6 545.2 L1786.0 546.7 L1783.4 548.2 L1780.8 549.7 L1778.2 551.2 L1775.6 552.7 L1773.0 554.2 L1770.4 555.8 L1767.8 557.3 L1765.2 558.8 L1762.6 560.4 L1760.1 561.9 L1757.5 563.5 L1754.9 565.0 L1752.4 566.6 L1749.8 568.2 L1747.3 569.8 L1744.7 571.4 L1742.2 573.0 L1739.6 574.6 L1737.1 576.2 L1734.5 577.8 L1732.0 579.5 L1729.5 581.1 L1727.0 582.7 L1724.5 584.4 L1722.0 586.0 L1719.5 587.7 L1717.0 589.4 L1714.5 591.1 L1712.0 592.7 L1709.5 594.4 L1707.0 596.1 L1704.5 597.8 L1702.1 599.6 L1699.6 601.3 L1697.1 603.0 L1694.7 604.7 L1692.2 606.5 L1689.8 608.2 L1687.4 610.0 L1684.9 611.8 L1682.5 613.5 L1680.1 615.3 L1677.7 617.1 L1675.3 618.9 L1672.9 620.7 L1670.5 622.5 L1668.1 624.3 L1665.7 626.1 L1663.3 628.0 L1660.9 629.8 L1658.5 631.6 L1656.2 633.5 L1653.8 635.4 L1651.5 637.2 L1649.1 639.1 L1646.8 641.0 L1644.4 642.9 L1642.1 644.7 L1639.8 646.6 L1637.5 648.6 L1635.2 650.5 L1632.9 652.4 L1630.6 654.3 L1628.3 656.3 L1626.0 658.2 L1623.7 660.1 L1621.4 662.1 L1619.2 664.1 L1616.9 666.0 L1614.7 668.0 L1612.4 670.0 L1610.2 672.0 L1608.0 674.0 L1605.7 676.0 L1603.5 678.0 L1601.3 680.0 L1599.1 682.1 L1596.9 684.1 L1594.7 686.1 L1592.5 688.2 L1590.3 690.2 L1588.2 692.3 L1586.0 694.4 L1583.9 696.5 L1581.7 698.5 L1579.6 700.6 L1577.4 702.7 L1575.3 704.8 L1573.2 707.0 L1571.1 709.1 L1569.0 711.2 L1566.9 713.3 L1564.8 715.5 L1562.7 717.6 L1560.6 719.8 L1558.6 721.9 L1556.5 724.1 L1554.4 726.3 L1552.4 728.5 L1550.4 730.7 L1548.3 732.9 L1546.3 735.1 L1544.3 737.3 L1542.3 739.5 L1540.3 741.7 L1538.3 744.0 L1536.3 746.2 L1534.4 748.5 L1532.4 750.7 L1530.5 753.0 L1528.5 755.2 L1526.6 757.5 L1524.6 759.8 L1522.7 762.1 L1520.8 764.4 L1518.9 766.7 L1517.0 769.0 L1515.1 771.3 L1513.2 773.7 L1511.4 776.0 L1509.5 778.3 L1507.6 780.7 L1505.8 783.0 L1503.9 785.4 L1502.1 787.7 L1500.3 790.1 L1498.5 792.5 L1496.7 794.9 L1494.9 797.3 L1493.1 799.7 L1491.3 802.1 L1489.5 804.5 L1487.7 806.9 L1486.0 809.3 L1484.2 811.7 L1482.4 814.2 L1480.7 816.6 L1479.0 819.1 L1477.2 821.5 L1475.5 824.0 L1473.8 826.4 L1472.1 828.9 L1470.4 831.4 L1468.7 833.8 L1467.0 836.3 L1465.3 838.8 L1463.6 841.3 L1461.9 843.8 L1460.3 846.3 L1458.6 848.8 L1456.9 851.3 L1455.3 853.8 L1453.7 856.3 L1452.0 858.8 L1450.4 861.4 L1448.8 863.9 L1447.1 866.4 L1445.5 869.0 L1443.9 871.5 L1442.3 874.1 L1440.7 876.6 L1439.1 879.2 L1437.5 881.7 L1435.9 884.3 L1434.3 886.9 L1432.8 889.4 L1431.2 892.0 L1429.6 894.6 L1428.1 897.2 L1426.5 899.7 L1425.0 902.3 L1423.4 904.9 L1421.9 907.5 L1420.3 910.1 L1418.8 912.7 L1417.3 915.3 L1415.7 917.9 L1414.2 920.5 L1412.7 923.1 L1411.2 925.7 L1409.7 928.4 L1408.2 931.0 L1406.7 933.6 L1405.2 936.2 L1403.7 938.8 L1402.2 941.5 L1400.7 944.1 L1399.2 946.7 L1397.7 949.4 L1396.2 952.0 L1394.7 954.6 L1393.3 957.3 L1391.8 959.9 L1390.3 962.6 L1388.9 965.2 L1387.4 967.8 L1385.9 970.5 L1384.5 973.1 L1383.0 975.8 L1381.6 978.4 L1380.1 981.1 L1378.7 983.7 L1377.2 986.4 L1375.8 989.0 L1374.3 991.7 L1372.9 994.4 L1371.4 997.0 L1370.0 999.7 L1368.6 1002.3 L1367.1 1005.0 L1365.7 1007.6 L1364.3 1010.3 L1362.8 1013.0 L1361.4 1015.6 L1360.0 1018.3 L1358.6 1020.9 L1357.1 1023.6 L1355.7 1026.3 L1354.3 1028.9 L1352.9 1031.6 L1351.5 1034.2 L1350.0 1036.9 L1348.6 1039.6 L1347.2 1042.2 L1345.8 1044.9 L1344.4 1047.5 L1343.0 1050.2 L1341.5 1052.8 L1340.1 1055.5 L1338.7 1058.1 L1337.3 1060.8 L1335.9 1063.5 L1334.5 1066.1 L1333.1 1068.8 L1331.6 1071.4 L1330.2 1074.0 L1328.8 1076.7 L1327.4 1079.3 L1326.0 1082.0 L1324.6 1084.6 L1323.2 1087.3 L1321.7 1089.9 L1320.3 1092.6 L1318.9 1095.2 L1317.5 1097.8 L1316.1 1100.5 L1314.7 1103.1 L1313.3 1105.8 L1311.9 1108.4 L1310.4 1111.0 L1309.0 1113.7 L1307.6 1116.3 L1306.2 1118.9 L1304.8 1121.6 L1303.4 1124.2 L1302.0 1126.8 L1300.6 1129.5 L1299.2 1132.1 L1297.7 1134.7 L1296.3 1137.4 L1294.9 1140.0 L1293.5 1142.6 L1292.1 1145.3 L1290.7 1147.9 L1289.3 1150.5 L1287.9 1153.2 L1286.5 1155.8 L1285.1 1158.4 L1283.7 1161.1 L1282.3 1163.7 L1280.8 1166.3 L1279.4 1169.0 L1278.0 1171.6 L1276.6 1174.2 L1275.2 1176.9 L1273.8 1179.5 L1272.4 1182.1 L1271.0 1184.8 L1269.6 1187.4 L1268.2 1190.0 L1266.8 1192.7 L1265.4 1195.3 L1264.0 1197.9 L1262.6 1200.6 L1261.2 1203.2 L1259.8 1205.8 L1258.4 1208.5 L1257.0 1211.1 L1255.6 1213.8 L1254.2 1216.4 L1252.8 1219.0 L1251.4 1221.7 L1250.0 1224.3 L1248.6 1227.0 L1247.2 1229.6 L1245.8 1232.2 L1244.4 1234.9 L1243.0 1237.5 L1241.7 1240.2 L1240.3 1242.8 L1238.9 1245.5 L1237.5 1248.1 L1236.1 1250.8 L1234.7 1253.4 L1233.3 1256.1 L1231.9 1258.7 L1230.5 1261.4 L1229.1 1264.0 L1227.8 1266.7 L1226.4 1269.4 L1225.0 1272.0 L1223.6 1274.7 L1222.2 1277.3 L1220.8 1280.0 L1219.4 1282.7 L1218.1 1285.3 L1216.7 1288.0 L1215.3 1290.7 L1213.9 1293.3 L1212.5 1296.0 L1211.2 1298.7 L1209.8 1301.3 L1208.4 1304.0 L1207.0 1306.7 L1205.7 1309.4 L1204.3 1312.1 L1202.9 1314.7 L1201.5 1317.4 L1200.2 1320.1 L1198.8 1322.8 L1197.4 1325.5 L1196.0 1328.2 L1194.7 1330.9 L1193.3 1333.6 L1191.9 1336.3 L1190.6 1339.0 L1189.2 1341.7 L1187.8 1344.4 L1186.5 1347.1 L1185.1 1349.8 L1183.8 1352.5 L1182.4 1355.2 L1181.0 1357.9 L1179.7 1360.6 L1178.3 1363.3 L1176.9 1366.0 L1175.6 1368.8 L1174.2 1371.5 L1172.8 1374.2 L1171.5 1376.9 L1170.1 1379.6 L1168.7 1382.3 L1167.4 1385.1 L1166.0 1387.8 L1164.6 1390.5 L1163.2 1393.2 L1161.8 1395.9 L1160.4 1398.6 L1159.1 1401.3 L1157.7 1404.0 L1156.3 1406.7 L1154.9 1409.4 L1153.4 1412.1 L1152.0 1414.8 L1150.6 1417.5 L1149.2 1420.1 L1147.8 1422.8 L1146.3 1425.5 L1144.9 1428.2 L1143.4 1430.8 L1142.0 1433.5 L1140.5 1436.1 L1139.0 1438.8 L1137.6 1441.4 L1136.1 1444.0 L1134.6 1446.7 L1133.1 1449.3 L1131.6 1451.9 L1130.1 1454.5 L1128.5 1457.1 L1127.0 1459.7 L1125.4 1462.3 L1123.9 1464.9 L1122.3 1467.4 L1120.8 1470.0 L1119.2 1472.5 L1117.6 1475.1 L1116.0 1477.6 L1114.3 1480.2 L1112.7 1482.7 L1111.1 1485.2 L1109.4 1487.7 L1107.8 1490.2 L1106.1 1492.6 L1104.4 1495.1 L1102.7 1497.5 L1101.0 1500.0 L1099.3 1502.4 L1097.5 1504.8 L1095.8 1507.2 L1094.0 1509.6 L1092.2 1512.0 L1090.4 1514.4 L1088.6 1516.7 L1086.8 1519.1 L1084.9 1521.4 L1083.1 1523.7 L1081.2 1526.0 L1079.3 1528.3 L1077.4 1530.6 L1075.5 1532.9 L1073.6 1535.1 L1071.6 1537.3 L1069.6 1539.5 L1067.6 1541.7 L1065.6 1543.9 L1063.6 1546.1 L1061.6 1548.2 L1059.5 1550.4 L1057.4 1552.5 L1055.3 1554.6 L1053.2 1556.7 L1051.1 1558.8 L1048.9 1560.8 L1046.7 1562.8 L1044.5 1564.9 L1042.3 1566.8 L1040.1 1568.8 L1037.8 1570.8 L1035.5 1572.7 L1033.2 1574.6 L1030.9 1576.5 L1028.6 1578.4 L1026.2 1580.3 L1023.8 1582.1 L1021.4 1584.0 L1019.0 1585.8 L1016.5 1587.5 L1014.1 1589.3 L1011.5 1591.0 L1009.0 1592.7 L1006.5 1594.4 L1003.9 1596.0 L1001.3 1597.6 L998.7 1599.1 L996.0 1600.6 L993.3 1601.9 L990.6 1603.2 L987.8 1604.5 L985.1 1605.6 L982.3 1606.6 L979.4 1607.6 L976.5 1608.4 L973.6 1609.1 L970.7 1609.7 L967.8 1610.2 L964.8 1610.6 L961.8 1610.9 L958.8 1611.2 L955.8 1611.3 L952.8 1611.3 L949.8 1611.2 L946.8 1611.0 L943.8 1610.8 L940.8 1610.4 L937.9 1609.9 L934.9 1609.4 L932.0 1608.8 L929.1 1608.1 L926.2 1607.3 L923.3 1606.4 L920.5 1605.5 L917.7 1604.4 L914.9 1603.3 L912.1 1602.2 L909.4 1601.0 L906.7 1599.7 L904.0 1598.4 L901.3 1597.0 L898.6 1595.5 L896.0 1594.1 L893.4 1592.6 L890.8 1591.0 L888.2 1589.4 L885.6 1587.8 L883.1 1586.2 L880.5 1584.6 L878.0 1582.9 L875.5 1581.2 L873.0 1579.5 L870.5 1577.8 L868.0 1576.1 L865.5 1574.4 L863.1 1572.6 L860.6 1570.9 L858.2 1569.1 L855.8 1567.3 L853.4 1565.5 L851.0 1563.7 L848.6 1561.9 L846.2 1560.0 L843.8 1558.2 L841.5 1556.3 L839.1 1554.5 L836.8 1552.6 L834.4 1550.7 L832.1 1548.8 L829.8 1546.9 L827.5 1545.0 L825.2 1543.1 L822.9 1541.1 L820.6 1539.2 L818.3 1537.2 L816.0 1535.3 L813.8 1533.3 L811.5 1531.3 L809.3 1529.4 L807.0 1527.4 L804.8 1525.4 L802.5 1523.4 L800.3 1521.4 L798.0 1519.4 L795.8 1517.4 L793.6 1515.4 L791.4 1513.3 L789.1 1511.3 L786.9 1509.3 L784.7 1507.2 L782.5 1505.2 L780.3 1503.2 L778.1 1501.1 L775.9 1499.1 L773.7 1497.0 L771.5 1495.0 L769.3 1492.9 L767.1 1490.9 L764.9 1488.8 L762.7 1486.8 L760.5 1484.7 L758.3 1482.7 L756.1 1480.6 L753.9 1478.6 L751.7 1476.6 L749.5 1474.5 L747.3 1472.5 L745.1 1470.4 L742.9 1468.4 L740.7 1466.3 L738.5 1464.3 L736.3 1462.3 L734.1 1460.3 L731.9 1458.2 L729.7 1456.2 L727.4 1454.2 L725.2 1452.2 L723.0 1450.2 L720.7 1448.2 L718.5 1446.2 L716.2 1444.2 L714.0 1442.2 L711.7 1440.2 L709.5 1438.3 L707.2 1436.3 L704.9 1434.4 L702.6 1432.4 L700.4 1430.5 L698.1 1428.6 L695.8 1426.6 L693.4 1424.7 L691.1 1422.8 L688.8 1420.9 L686.5 1419.0 L684.1 1417.2 L681.8 1415.3 L679.4 1413.4 L677.1 1411.6 L674.7 1409.7 L672.4 1407.9 L670.0 1406.1 L667.6 1404.2 L665.2 1402.4 L662.8 1400.6 L660.4 1398.8 L658.0 1397.0 L655.6 1395.2 L653.2 1393.5 L650.7 1391.7 L648.3 1389.9 L645.9 1388.2 L643.4 1386.4 L641.0 1384.7 L638.5 1383.0 L636.1 1381.2 L633.6 1379.5 L631.1 1377.8 L628.7 1376.1 L626.2 1374.4 L623.7 1372.7 L621.2 1371.0 L618.7 1369.4 L616.2 1367.7 L613.7 1366.0 L611.2 1364.4 L608.7 1362.7 L606.1 1361.1 L603.6 1359.5 L601.1 1357.8 L598.5 1356.2 L596.0 1354.6 L593.5 1353.0 L590.9 1351.4 L588.4 1349.8 L585.8 1348.2 L583.2 1346.7 L580.7 1345.1 L578.1 1343.5 L575.5 1342.0 L572.9 1340.4 L570.3 1338.9 L567.8 1337.3 L565.2 1335.8 L562.6 1334.3 L560.0 1332.7 L557.4 1331.2 L554.8 1329.7 L552.1 1328.2 L549.5 1326.7 L546.9 1325.2 L544.3 1323.7 L541.7 1322.3 L539.0 1320.8 L536.4 1319.3 L533.8 1317.9 L531.1 1316.4 L528.5 1315.0 L525.8 1313.5 L523.2 1312.1 L520.5 1310.6 L517.9 1309.2 L515.2 1307.8 L512.5 1306.4 L509.9 1305.0 L507.2 1303.6 L504.5 1302.2 L501.9 1300.8 L499.2 1299.4 L496.5 1298.0 L493.8 1296.6 L491.1 1295.2 L488.5 1293.9 L485.8 1292.5 L483.1 1291.1 L480.4 1289.8 L477.7 1288.4 L475.0 1287.1 L472.3 1285.8 L469.6 1284.4 L466.9 1283.1 L464.2 1281.8 L461.5 1280.5 L458.8 1279.1 L456.0 1277.8 L453.3 1276.5 L450.6 1275.2 L447.9 1273.9 L445.2 1272.6 L442.5 1271.3 L439.7 1270.1 L437.0 1268.8 L434.3 1267.5 L431.6 1266.2 L428.9 1265.0 L426.1 1263.7 L423.4 1262.5 L420.7 1261.2 L417.9 1260.0 L415.2 1258.7 L412.5 1257.5 L409.7 1256.2 L407.0 1255.0 L404.3 1253.8 L401.5 1252.5 L398.8 1251.3 L396.1 1250.1 L393.3 1248.9 L390.6 1247.7 L387.9 1246.5 L385.1 1245.3 L382.4 1244.1 L379.6 1242.9 L376.9 1241.7 L374.2 1240.5 L371.4 1239.3 L368.7 1238.1 L371.2 1236.5 L373.8 1235.1 L376.4 1233.6 L379.0 1232.2 L381.5 1230.8 L384.1 1229.3 L386.7 1227.9 L389.4 1226.6 L392.0 1225.2 L394.6 1223.8 L397.2 1222.4 L399.8 1221.1 L402.5 1219.7 L405.1 1218.4 L407.8 1217.1 L410.4 1215.8 L413.1 1214.5 L415.8 1213.2 L418.4 1211.9 L421.1 1210.6 L423.8 1209.3 L426.5 1208.0 L429.2 1206.8 L431.9 1205.5 L434.6 1204.3 L437.3 1203.1 L440.0 1201.8 L442.7 1200.6 L445.4 1199.4 L448.1 1198.2 L450.9 1197.0 L453.6 1195.8 L456.3 1194.6 L459.1 1193.5 L461.8 1192.3 L464.6 1191.1 L467.3 1190.0 L470.1 1188.8 L472.9 1187.7 L475.6 1186.5 L478.4 1185.4 L481.2 1184.3 L484.0 1183.2 L486.7 1182.1 L489.5 1180.9 L492.3 1179.8 L495.1 1178.7 L497.9 1177.6 L500.7 1176.6 L503.5 1175.5 L506.3 1174.4 L509.1 1173.3 L511.9 1172.2 L514.7 1171.2 L517.6 1170.1 L520.4 1169.1 L523.2 1168.0 L526.0 1167.0 L528.9 1165.9 L531.7 1164.9 L534.5 1163.8 L537.3 1162.8 L540.2 1161.8 L543.0 1160.7 L545.9 1159.7 L548.7 1158.7 L551.5 1157.6 L554.4 1156.6 L557.2 1155.6 L560.1 1154.6 L562.9 1153.6 L565.8 1152.6 L568.6 1151.6 L571.5 1150.5 L574.3 1149.5 L577.2 1148.5 L580.0 1147.5 L582.9 1146.5 L585.8 1145.5 L588.6 1144.5 L591.5 1143.5 L594.3 1142.5 L597.2 1141.5 L600.1 1140.5 L602.9 1139.5 L605.8 1138.5 L608.6 1137.5 L611.5 1136.5 L614.4 1135.5 L617.2 1134.5 L620.1 1133.5 L623.0 1132.5 L625.8 1131.5 L628.7 1130.5 L631.5 1129.5 L634.4 1128.5 L637.3 1127.5 L640.1 1126.5 L643.0 1125.5 L645.9 1124.5 L648.7 1123.5 L651.6 1122.5 L654.4 1121.5 L657.3 1120.5 L660.1 1119.5 L663.0 1118.4 L665.8 1117.4 L668.7 1116.4 L671.5 1115.4 L674.4 1114.3 L677.2 1113.3 L680.1 1112.3 L682.9 1111.2 L685.8 1110.2 L688.6 1109.1 L691.4 1108.1 L694.3 1107.0 L697.1 1106.0 L699.9 1104.9 L702.8 1103.9 L705.6 1102.8 L708.4 1101.7 L711.2 1100.6 L714.1 1099.6 L716.9 1098.5 L719.7 1097.4 L722.5 1096.3 L725.3 1095.2 L728.1 1094.1 L730.9 1093.0 L733.7 1091.8 L736.5 1090.7 L739.3 1089.6 L742.1 1088.4 L744.9 1087.3 L747.7 1086.2 L750.5 1085.0 L753.2 1083.8 L756.0 1082.7 L758.8 1081.5 L761.5 1080.3 L764.3 1079.1 L767.1 1078.0 L769.8 1076.8 L772.6 1075.5 L775.3 1074.3 L778.0 1073.1 L780.8 1071.9 L783.5 1070.6 L786.2 1069.4 L789.0 1068.1 L791.7 1066.9 L794.4 1065.6 L797.1 1064.3 L799.8 1063.1 L802.5 1061.8 L805.2 1060.5 L807.9 1059.1 L810.6 1057.8 L813.3 1056.5 L815.9 1055.1 L818.6 1053.8 L821.3 1052.4 L823.9 1051.1 L826.6 1049.7 L829.2 1048.3 L831.9 1046.9 L834.5 1045.5 L837.1 1044.1 L839.7 1042.7 L842.4 1041.2 L845.0 1039.8 L847.6 1038.3 L850.2 1036.8 L852.8 1035.4 L855.3 1033.9 L857.9 1032.4 L860.5 1030.8 L863.1 1029.3 L865.6 1027.8 L868.2 1026.2 L870.7 1024.7 L873.2 1023.1 L875.8 1021.5 L878.3 1019.9 L880.8 1018.3 L883.3 1016.7 L885.8 1015.0 L888.3 1013.4 L890.8 1011.8 L893.3 1010.1 L895.8 1008.4 L898.2 1006.7 L900.7 1005.0 L903.2 1003.3 L905.6 1001.6 L908.0 999.9 L910.5 998.1 L912.9 996.4 L915.3 994.6 L917.7 992.8 L920.2 991.1 L922.6 989.3 L924.9 987.5 L927.3 985.7 L929.7 983.8 L932.1 982.0 L934.5 980.2 L936.8 978.3 L939.2 976.5 L941.5 974.6 L943.9 972.7 L946.2 970.8 L948.6 968.9 L950.9 967.0 L953.2 965.1 L955.5 963.2 L957.8 961.3 L960.1 959.3 L962.4 957.4 L964.7 955.4 L967.0 953.5 L969.2 951.5 L971.5 949.5 L973.8 947.5 L976.0 945.5 L978.3 943.5 L980.5 941.5 L982.8 939.5 L985.0 937.5 L987.2 935.4 L989.4 933.4 L991.7 931.3 L993.9 929.3 L996.1 927.2 L998.3 925.1 L1000.4 923.1 L1002.6 921.0 L1004.8 918.9 L1007.0 916.8 L1009.1 914.7 L1011.3 912.6 L1013.5 910.5 L1015.6 908.3 L1017.7 906.2 L1019.9 904.1 L1022.0 901.9 L1024.1 899.8 L1026.3 897.6 L1028.4 895.5 L1030.5 893.3 L1032.6 891.2 L1034.7 889.0 L1036.8 886.8 L1038.8 884.6 L1040.9 882.4 L1043.0 880.2 L1045.1 878.0 L1047.1 875.8 L1049.2 873.6 L1051.2 871.4 L1053.3 869.2 L1055.3 866.9 L1057.3 864.7 L1059.4 862.5 L1061.4 860.2 L1063.4 858.0 L1065.4 855.8 L1067.4 853.5 L1069.4 851.3 L1071.4 849.0 L1073.4 846.7 L1075.4 844.5 L1077.4 842.2 L1079.4 839.9 L1081.3 837.7 L1083.3 835.4 L1085.3 833.1 L1087.2 830.8 L1089.2 828.5 L1091.1 826.2 L1093.0 823.9 L1095.0 821.6 L1096.9 819.3 L1098.8 817.0 L1100.7 814.7 L1102.7 812.4 L1104.6 810.1 L1106.5 807.8 L1108.4 805.4 L1110.3 803.1 L1112.2 800.8 L1114.1 798.5 L1115.9 796.1 L1117.8 793.8 L1119.7 791.4 L1121.6 789.1 L1123.4 786.8 L1125.3 784.4 L1127.2 782.1 L1129.0 779.7 L1130.9 777.3 L1132.7 775.0 L1134.6 772.6 L1136.4 770.2 L1138.2 767.9 L1140.1 765.5 L1141.9 763.1 L1143.7 760.8 L1145.6 758.4 L1147.4 756.0 L1149.2 753.6 L1151.0 751.2 L1152.8 748.8 L1154.6 746.5 L1156.4 744.1 L1158.2 741.7 L1160.0 739.3 L1161.8 736.9 L1163.6 734.5 L1165.4 732.1 L1167.2 729.7 L1169.0 727.2 L1170.7 724.8 L1172.5 722.4 L1174.3 720.0 L1176.1 717.6 L1177.8 715.2 L1179.6 712.8 L1181.4 710.3 L1183.1 707.9 L1184.9 705.5 L1186.6 703.1 L1188.4 700.6 L1190.1 698.2 L1191.9 695.8 L1193.6 693.3 L1195.4 690.9 L1197.1 688.5 L1198.9 686.0 L1200.6 683.6 L1202.3 681.1 L1204.1 678.7 L1205.8 676.2 L1207.6 673.8 L1209.3 671.4 L1211.0 668.9 L1212.7 666.5 L1214.5 664.0 L1216.2 661.5 L1217.9 659.1 L1219.6 656.6 L1221.4 654.2 L1223.1 651.7 L1224.8 649.3 L1226.5 646.8 L1228.2 644.3 L1229.9 641.9 L1231.7 639.4 L1233.4 637.0 L1235.1 634.5 L1236.8 632.0 L1238.5 629.6 L1240.2 627.1 L1241.9 624.6 L1243.6 622.2 L1245.3 619.7 L1247.0 617.2 L1248.7 614.8 L1250.5 612.3 L1252.2 609.8 L1253.9 607.3 L1255.6 604.9 L1257.3 602.4 L1259.0 599.9 L1260.7 597.5 L1262.4 595.0 L1264.1 592.5 L1265.8 590.0 L1267.5 587.6 L1269.2 585.1 L1270.9 582.6 L1272.6 580.1 L1274.3 577.7 L1276.0 575.2 L1277.7 572.7 L1279.4 570.2 L1281.1 567.8 L1282.8 565.3 L1284.6 562.8 L1286.3 560.3 L1288.0 557.9 L1289.7 555.4 L1291.4 552.9 L1293.1 550.4 L1294.8 548.0 L1296.5 545.5 L1298.2 543.0 L1300.0 540.5 L1301.7 538.1 L1303.4 535.6 L1305.1 533.1 L1306.8 530.7 L1308.5 528.2 L1310.3 525.7 L1312.0 523.2 L1313.7 520.8 L1315.4 518.3 L1317.2 515.8 L1318.9 513.4 L1320.6 510.9 L1322.3 508.4 L1324.1 506.0 L1325.8 503.5 L1327.6 501.0 L1329.3 498.6 L1331.0 496.1 L1332.8 493.7 L1334.5 491.2 L1336.3 488.7 L1338.0 486.3 L1339.8 483.8 L1341.5 481.4 L1343.3 478.9 L1345.0 476.5 L1346.8 474.0 L1348.6 471.6 L1350.3 469.1 L1352.1 466.7 L1353.9 464.2 L1355.6 461.8 L1357.4 459.3 L1359.2 456.9 L1361.0 454.5 L1362.7 452.0 L1364.5 449.6 L1366.3 447.1 L1368.1 444.7 L1369.9 442.3 L1371.7 439.9 L1373.5 437.4 L1375.3 435.0 L1377.1 432.6 L1378.9 430.2 L1380.8 427.8 L1382.6 425.3 L1384.4 422.9 L1386.2 420.5 L1388.1 418.1 L1389.9 415.7 L1391.8 413.4 L1393.6 411.0 L1395.5 408.6 L1397.3 406.2 L1399.2 403.8 L1401.1 401.5 L1403.0 399.1 L1404.8 396.8 L1406.7 394.4 L1408.6 392.1 L1410.5 389.7 L1412.4 387.4 L1414.3 385.1 L1416.3 382.7 L1418.2 380.4 L1420.1 378.1 L1422.1 375.8 L1424.0 373.5 L1425.9 371.2 L1427.9 368.9 L1429.9 366.7 L1431.8 364.4 L1433.8 362.1 L1435.8 359.9 L1437.8 357.6 L1439.8 355.4 L1441.8 353.2 L1443.8 351.0 L1445.9 348.8 L1447.9 346.5 L1449.9 344.4 L1452.0 342.2 L1454.1 340.0 L1456.1 337.8 L1458.2 335.7 L1460.3 333.5 L1462.4 331.4 L1464.5 329.3 L1466.6 327.1 L1468.7 325.0 L1470.8 322.9 L1473.0 320.8 L1475.1 318.8 L1477.3 316.7 L1479.5 314.6 L1481.6 312.6 L1483.8 310.6 L1486.0 308.5 L1488.2 306.5 L1490.5 304.5 L1492.7 302.5 L1494.9 300.6 L1497.2 298.6 L1499.5 296.7 L1501.7 294.7 L1504.0 292.8 L1506.3 290.9 L1508.6 289.0 L1510.9 287.1 L1513.3 285.2 L1515.6 283.4 L1518.0 281.5 L1520.3 279.7 L1522.7 277.9 L1525.1 276.1 L1527.5 274.3 L1529.9 272.5 L1532.3 270.7 L1534.8 269.0 L1537.2 267.2 L1539.7 265.5 L1542.2 263.8 L1544.7 262.1 L1547.2 260.4 L1549.7 258.8 L1552.2 257.1 L1554.8 255.5 L1557.3 253.9 L1559.9 252.3 L1562.4 250.8 L1565.0 249.2 L1567.6 247.7 L1570.2 246.1 L1572.9 244.6 L1575.5 243.2 L1578.1 241.7 L1580.8 240.3 L1583.4 238.8 L1586.1 237.4 L1588.8 236.0 L1591.5 234.7 L1594.2 233.3 L1596.9 232.0 L1599.6 230.7 L1602.3 229.5 L1605.1 228.2 L1607.8 227.0 L1610.6 225.8 L1613.3 224.6 L1616.1 223.4 L1618.9 222.3 L1621.7 221.2 L1624.4 220.1 L1627.2 219.0 L1630.1 218.0 L1632.9 216.9 L1635.7 216.0 L1638.5 215.0 L1641.4 214.0 L1644.2 213.1 L1647.1 212.2 L1649.9 211.4 L1652.8 210.6 L1655.6 209.8 L1658.5 209.0 L1661.4 208.2 L1664.3 207.5 L1667.2 206.8 L1670.1 206.2 L1673.0 205.5 L1675.9 204.9 L1678.8 204.3 L1681.7 203.8 L1684.6 203.3 L1687.5 202.8 L1690.5 202.3 L1693.4 201.9 L1696.3 201.5 L1699.3 201.2 L1702.2 200.9 L1705.2 200.6 L1708.1 200.3 L1711.1 200.1 L1714.0 199.9 L1717.0 199.7 L1719.9 199.6 L1722.9 199.4 L1725.9 199.4 L1728.8 199.3 L1731.8 199.3 L1734.8 199.3 L1737.8 199.3 L1740.7 199.4 L1743.7 199.4 L1746.7 199.6 L1749.7 199.7 L1752.6 199.9 L1755.6 200.0 L1758.6 200.2 L1761.6 200.5 L1764.6 200.7 L1767.6 201.0 L1770.6 201.3 L1773.5 201.7 L1776.5 202.0 L1779.5 202.4 L1782.5 202.8 L1785.5 203.2 L1788.5 203.6 L1791.5 204.1 L1794.5 204.6 L1797.4 205.1 L1800.4 205.6 L1803.4 206.1 L1806.4 206.7 L1809.4 207.2 L1812.4 207.8 L1815.3 208.4 L1818.3 209.1 L1821.3 209.7 L1824.3 210.4 L1827.2 211.1 L1830.2 211.7 L1833.2 212.5 L1836.1 213.2 L1839.1 213.9 L1842.1 214.7 L1845.0 215.4 L1848.0 216.2 L1850.9 217.0 L1853.9 217.8 L1856.8 218.6 L1859.8 219.4 L1862.7 220.3 L1865.6 221.1 L1868.6 222.0 L1871.5 222.9 L1874.4 223.8 L1877.3 224.6 L1880.2 225.5 L1883.1 226.5 L1886.1 227.4 L1889.0 228.3 L1891.8 229.2 L1894.7 230.2 L1897.6 231.1 L1900.5 232.1 L1903.4 233.0 L1906.2 234.0 L1909.1 235.0 L1912.0 236.0 L1914.8 237.0 L1917.7 238.0 L1920.5 239.0 L1923.4 240.0 L1926.2 241.0 L1929.1 242.0 L1931.9 243.0 L1934.7 244.0 L1937.5 245.1 L1940.4 246.1 L1943.2 247.1 L1946.0 248.2 L1948.8 249.2 L1951.6 250.3 L1954.4 251.4 L1957.2 252.4 L1960.0 253.5 L1962.8 254.5 L1965.6 255.6 L1968.4 256.7 L1971.2 257.8 L1974.0 258.8 L1976.8 259.9 L1979.5 261.0 L1982.3 262.1 L1985.1 263.2 L1987.9 264.3 L1990.7 265.4 L1993.4 266.5 L1996.2 267.6 L1999.0 268.7 L2001.7 269.8 L2004.5 270.9 L2007.3 272.0 L2010.1 273.1 L2012.8 274.2 L2015.6 275.3 L2018.4 276.4 L2021.1 277.5 L2023.9 278.6 L2026.7 279.7 L2029.4 280.8 L2032.2 281.9 L2035.0 283.0 L2037.7 284.1 L2040.5 285.2 L2043.3 286.3 L2046.0 287.4 L2048.8 288.5 L2051.6 289.6 L2054.3 290.7 L2057.1 291.8 L2059.9 292.9 L2062.7 294.0 L2065.4 295.1 L2068.2 296.2 L2071.0 297.2 L2073.8 298.3 L2076.5 299.4 L2079.3 300.5 L2082.1 301.5 L2084.9 302.6 L2087.7 303.7 L2090.5 304.7 L2093.3 305.8 L2096.1 306.8 L2098.9 307.9 L2101.7 308.9 L2104.5 310.0 L2107.3 311.0 L2110.1 312.0 L2112.9 313.1 L2115.8 314.1 L2118.6 315.1 L2121.4 316.1 L2124.2 317.1 L2127.1 318.1 L2129.9 319.1 L2132.8 320.1 L2135.6 321.1 L2138.5 322.0 L2141.3 323.0 L2144.2 324.0 L2147.0 324.9 L2149.9 325.9 L2152.8 326.8 L2155.7 327.7 L2158.6 328.7 L2161.4 329.6 L2164.3 330.5 L2167.2 331.4 L2170.2 332.3 L2173.1 333.2 L2176.0 334.1 L2178.9 334.9 L2181.8 335.8 L2184.8 336.7 L2187.7 337.5" stroke="#0000ff" stroke-width="8.0"/></g>
<line x1="286.1" y1="88.2" x2="286.1" y2="1712.2" stroke="#000" stroke-width="7.2"/>
<line x1="2286.0" y1="88.2" x2="2286.0" y2="1712.2" stroke="#000" stroke-width="7.2"/>
<line x1="282.5" y1="92.0" x2="2289.6" y2="92.0" stroke="#000" stroke-width="7.6"/>
<line x1="282.5" y1="1707.7" x2="2289.6" y2="1707.7" stroke="#000" stroke-width="9.4"/>
<g stroke="#000" stroke-width="8.8"><line x1="286.1" y1="1659.4" x2="305.1" y2="1659.4"/>
<line x1="286.1" y1="1610.4" x2="305.1" y2="1610.4"/>
<line x1="286.1" y1="1561.4" x2="320.1" y2="1561.4"/>
<line x1="286.1" y1="1512.4" x2="305.1" y2="1512.4"/>
<line x1="286.1" y1="1463.4" x2="305.1" y2="1463.4"/>
<line x1="286.1" y1="1414.4" x2="305.1" y2="1414.4"/>
<line x1="286.1" y1="1365.4" x2="305.1" y2="1365.4"/>
<line x1="286.1" y1="1316.4" x2="320.1" y2="1316.4"/>
<line x1="286.1" y1="1267.4" x2="305.1" y2="1267.4"/>
<line x1="286.1" y1="1218.4" x2="305.1" y2="1218.4"/>
<line x1="286.1" y1="1169.4" x2="305.1" y2="1169.4"/>
<line x1="286.1" y1="1120.4" x2="305.1" y2="1120.4"/>
<line x1="286.1" y1="1071.4" x2="320.1" y2="1071.4"/>
<line x1="286.1" y1="1022.4" x2="305.1" y2="1022.4"/>
<line x1="286.1" y1="973.4" x2="305.1" y2="973.4"/>
<line x1="286.1" y1="924.4" x2="305.1" y2="924.4"/>
<line x1="286.1" y1="875.4" x2="305.1" y2="875.4"/>
<line x1="286.1" y1="826.4" x2="320.1" y2="826.4"/>
<line x1="286.1" y1="777.4" x2="305.1" y2="777.4"/>
<line x1="286.1" y1="728.4" x2="305.1" y2="728.4"/>
<line x1="286.1" y1="679.4" x2="305.1" y2="679.4"/>
<line x1="286.1" y1="630.4" x2="305.1" y2="630.4"/>
<line x1="286.1" y1="581.4" x2="320.1" y2="581.4"/>
<line x1="286.1" y1="532.4" x2="305.1" y2="532.4"/>
<line x1="286.1" y1="483.4" x2="305.1" y2="483.4"/>
<line x1="286.1" y1="434.4" x2="305.1" y2="434.4"/>
<line x1="286.1" y1="385.4" x2="305.1" y2="385.4"/>
<line x1="286.1" y1="336.4" x2="320.1" y2="336.4"/>
<line x1="286.1" y1="287.4" x2="305.1" y2="287.4"/>
<line x1="286.1" y1="238.4" x2="305.1" y2="238.4"/>
<line x1="286.1" y1="189.4" x2="305.1" y2="189.4"/>
<line x1="286.1" y1="140.4" x2="305.1" y2="140.4"/>
<line x1="286.1" y1="91.4" x2="320.1" y2="91.4"/>
<line x1="285.9" y1="1707.7" x2="285.9" y2="1671.7"/>
<line x1="376.8" y1="1707.7" x2="376.8" y2="1686.7"/>
<line x1="467.7" y1="1707.7" x2="467.7" y2="1686.7"/>
<line x1="558.6" y1="1707.7" x2="558.6" y2="1686.7"/>
<line x1="649.5" y1="1707.7" x2="649.5" y2="1686.7"/>
<line x1="740.4" y1="1707.7" x2="740.4" y2="1671.7"/>
<line x1="831.4" y1="1707.7" x2="831.4" y2="1686.7"/>
<line x1="922.3" y1="1707.7" x2="922.3" y2="1686.7"/>
<line x1="1013.2" y1="1707.7" x2="1013.2" y2="1686.7"/>
<line x1="1104.1" y1="1707.7" x2="1104.1" y2="1686.7"/>
<line x1="1195.0" y1="1707.7" x2="1195.0" y2="1671.7"/>
<line x1="1285.9" y1="1707.7" x2="1285.9" y2="1686.7"/>
<line x1="1376.8" y1="1707.7" x2="1376.8" y2="1686.7"/>
<line x1="1467.7" y1="1707.7" x2="1467.7" y2="1686.7"/>
<line x1="1558.6" y1="1707.7" x2="1558.6" y2="1686.7"/>
<line x1="1649.5" y1="1707.7" x2="1649.5" y2="1671.7"/>
<line x1="1740.5" y1="1707.7" x2="1740.5" y2="1686.7"/>
<line x1="1831.4" y1="1707.7" x2="1831.4" y2="1686.7"/>
<line x1="1922.3" y1="1707.7" x2="1922.3" y2="1686.7"/>
<line x1="2013.2" y1="1707.7" x2="2013.2" y2="1686.7"/>
<line x1="2104.1" y1="1707.7" x2="2104.1" y2="1671.7"/>
<line x1="2195.0" y1="1707.7" x2="2195.0" y2="1686.7"/>
<line x1="2285.9" y1="1707.7" x2="2285.9" y2="1686.7"/></g>
<g font-size="86" fill="#000"><text transform="translate(251,114.4) scale(1,1.03)" text-anchor="end">15</text>
<text transform="translate(251,359.4) scale(1,1.03)" text-anchor="end">10</text>
<text transform="translate(251,604.4) scale(1,1.03)" text-anchor="end">5</text>
<text transform="translate(251,849.4) scale(1,1.03)" text-anchor="end">0</text>
<text transform="translate(251,1094.4) scale(1,1.03)" text-anchor="end">-5</text>
<text transform="translate(251,1339.4) scale(1,1.03)" text-anchor="end">-10</text>
<text transform="translate(251,1584.4) scale(1,1.03)" text-anchor="end">-15</text>
<text transform="translate(285.9,1807) scale(1,1.03)" text-anchor="middle">500</text>
<text transform="translate(740.4,1807) scale(1,1.03)" text-anchor="middle">600</text>
<text transform="translate(1195.0,1807) scale(1,1.03)" text-anchor="middle">700</text>
<text transform="translate(1649.5,1807) scale(1,1.03)" text-anchor="middle">800</text>
<text transform="translate(2104.1,1807) scale(1,1.03)" text-anchor="middle">900</text></g>
<text transform="translate(0,1923.7) scale(1,1.02)" font-size="88" x="1157.2 1215.9 1239.0 1263.4 1284.8 1354.6" y="0">E / mV</text>
<text transform="translate(125.3,1170.4) rotate(-90) scale(1,1.02)" font-size="88" x="1.2 20.8 43.0 67.4 88.7 158.7 217.3 239.1 279.9" y="0">i / mA cm<tspan font-size="70" x="352.6 374.7" y="-42.7">-2</tspan></text>
<rect x="1577" y="1055" width="549" height="541" fill="#fefefe"/>
<rect x="1581" y="1058" width="541" height="4" fill="#dcdcdc"/>
<rect x="2126.8" y="1056" width="2.8" height="536" fill="#e2e2e2"/>
<rect x="1577" y="1589" width="549" height="7" fill="#b0b0b0"/>
<path d="M1579 1591.5 V1056.5 H2124 V1591.5" fill="none" stroke="#222" stroke-width="3.6"/>
<line x1="1588.4" y1="1148.3" x2="1750.1" y2="1148.3" stroke="#000" stroke-width="8.6"/>
<text transform="translate(0,1172.4) scale(1,1.03)" font-size="77" x="1765.4 1808.2 1830.7 1893.8 1945.2 1968.1" y="0">5 mV s<tspan font-size="67" x="2007.8 2025.4" y="-38.9">-1</tspan></text>
<line x1="1588.4" y1="1277.9" x2="1750.1" y2="1277.9" stroke="#ff0000" stroke-width="8.6"/>
<text transform="translate(0,1301) scale(1,1.03)" font-size="77" x="1762.5 1808.8 1851.6 1874.8 1940.2 1991.6 2014.2" y="0">10 mV s<tspan font-size="67" x="2052.1 2072.7" y="-36.0">-1</tspan></text>
<line x1="1588.4" y1="1408" x2="1750.1" y2="1408" stroke="#008000" stroke-width="8.6"/>
<text transform="translate(0,1433.6) scale(1,1.03)" font-size="77" x="1766.2 1809.7 1852.5 1874.8 1940.2 1991.6 2014.2" y="0">20 mV s<tspan font-size="67" x="2052.1 2072.7" y="-39.3">-1</tspan></text>
<line x1="1588.4" y1="1537.8" x2="1750.1" y2="1537.8" stroke="#0000ff" stroke-width="8.6"/>
<text transform="translate(0,1562) scale(1,1.03)" font-size="77" x="1766.3 1809.7 1852.5 1874.8 1940.2 1991.6 2014.2" y="0">50 mV s<tspan font-size="67" x="2052.1 2072.7" y="-36.0">-1</tspan></text>
</svg>
</body></html>
